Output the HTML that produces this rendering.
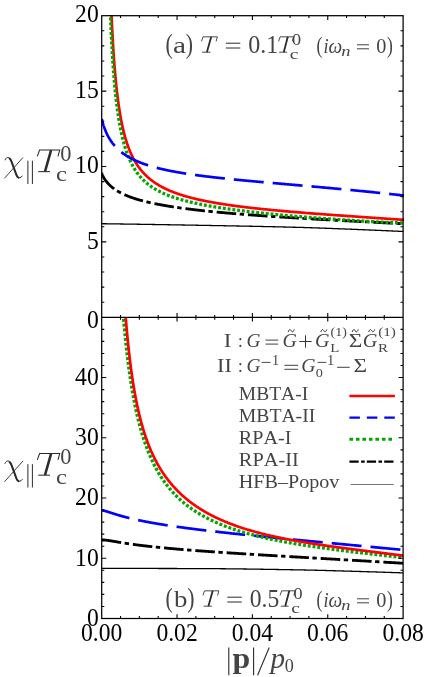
<!DOCTYPE html>
<html><head><meta charset="utf-8"><title>chart</title>
<style>html,body{margin:0;padding:0;background:#fff;overflow:hidden;}svg{display:block;}text{white-space:pre;font-kerning:none;}</style></head>
<body>
<svg width="436" height="677" viewBox="0 0 436 677">
<defs>
<clipPath id="ct"><rect x="101.7" y="15.7" width="301.40000000000003" height="301.6"/></clipPath>
<clipPath id="cb"><rect x="101.7" y="317.3" width="301.40000000000003" height="301.2"/></clipPath>
</defs>
<rect width="436" height="677" fill="#fff"/>
<g id="all" style="will-change:opacity" opacity="0.9999">
<g clip-path="url(#ct)" fill="none">
<path d="M101.00,223.70 L101.76,223.71 L102.52,223.72 L103.27,223.73 L104.03,223.74 L104.79,223.75 L105.55,223.76 L106.31,223.77 L107.06,223.78 L107.82,223.80 L108.58,223.81 L109.34,223.82 L110.09,223.83 L110.85,223.84 L111.61,223.85 L112.37,223.86 L113.13,223.87 L113.88,223.88 L114.64,223.89 L115.40,223.90 L116.16,223.91 L116.92,223.93 L117.67,223.94 L118.43,223.95 L119.19,223.96 L119.95,223.97 L120.71,223.98 L121.46,223.99 L122.22,224.00 L122.98,224.02 L123.74,224.03 L124.49,224.04 L125.25,224.05 L126.01,224.06 L126.77,224.07 L127.53,224.08 L128.28,224.10 L129.04,224.11 L129.80,224.12 L130.56,224.13 L131.32,224.14 L132.07,224.15 L132.83,224.16 L133.59,224.18 L134.35,224.19 L135.11,224.20 L135.86,224.21 L136.62,224.22 L137.38,224.24 L138.14,224.25 L138.89,224.26 L139.65,224.27 L140.41,224.28 L141.17,224.29 L141.93,224.31 L142.68,224.32 L143.44,224.33 L144.20,224.34 L144.96,224.35 L145.72,224.37 L146.47,224.38 L147.23,224.39 L147.99,224.40 L148.75,224.42 L149.51,224.43 L150.26,224.44 L151.02,224.45 L151.78,224.47 L152.54,224.48 L153.29,224.49 L154.05,224.50 L154.81,224.51 L155.57,224.53 L156.33,224.54 L157.08,224.55 L157.84,224.56 L158.60,224.58 L159.36,224.59 L160.12,224.60 L160.87,224.62 L161.63,224.63 L162.39,224.64 L163.15,224.65 L163.91,224.67 L164.66,224.68 L165.42,224.69 L166.18,224.70 L166.94,224.72 L167.69,224.73 L168.45,224.74 L169.21,224.76 L169.97,224.77 L170.73,224.78 L171.48,224.79 L172.24,224.81 L173.00,224.82 L173.76,224.83 L174.52,224.85 L175.27,224.86 L176.03,224.87 L176.79,224.89 L177.55,224.90 L178.31,224.91 L179.06,224.93 L179.82,224.94 L180.58,224.95 L181.34,224.97 L182.09,224.98 L182.85,224.99 L183.61,225.01 L184.37,225.02 L185.13,225.03 L185.88,225.05 L186.64,225.06 L187.40,225.07 L188.16,225.09 L188.92,225.10 L189.67,225.11 L190.43,225.13 L191.19,225.14 L191.95,225.15 L192.71,225.17 L193.46,225.18 L194.22,225.20 L194.98,225.21 L195.74,225.22 L196.49,225.24 L197.25,225.25 L198.01,225.26 L198.77,225.28 L199.53,225.29 L200.28,225.31 L201.04,225.32 L201.80,225.33 L202.56,225.35 L203.32,225.36 L204.07,225.37 L204.83,225.39 L205.59,225.40 L206.35,225.42 L207.11,225.43 L207.86,225.44 L208.62,225.46 L209.38,225.47 L210.14,225.48 L210.89,225.50 L211.65,225.51 L212.41,225.53 L213.17,225.54 L213.93,225.55 L214.68,225.57 L215.44,225.58 L216.20,225.60 L216.96,225.61 L217.72,225.62 L218.47,225.64 L219.23,225.65 L219.99,225.66 L220.75,225.68 L221.51,225.69 L222.26,225.71 L223.02,225.72 L223.78,225.73 L224.54,225.75 L225.29,225.76 L226.05,225.78 L226.81,225.79 L227.57,225.80 L228.33,225.82 L229.08,225.83 L229.84,225.85 L230.60,225.86 L231.36,225.88 L232.12,225.89 L232.87,225.90 L233.63,225.92 L234.39,225.93 L235.15,225.95 L235.91,225.96 L236.66,225.98 L237.42,225.99 L238.18,226.00 L238.94,226.02 L239.69,226.03 L240.45,226.05 L241.21,226.06 L241.97,226.08 L242.73,226.09 L243.48,226.11 L244.24,226.12 L245.00,226.14 L245.76,226.15 L246.52,226.17 L247.27,226.18 L248.03,226.20 L248.79,226.21 L249.55,226.23 L250.31,226.24 L251.06,226.26 L251.82,226.27 L252.58,226.29 L253.34,226.30 L254.09,226.32 L254.85,226.34 L255.61,226.35 L256.37,226.37 L257.13,226.38 L257.88,226.40 L258.64,226.41 L259.40,226.43 L260.16,226.45 L260.92,226.46 L261.67,226.48 L262.43,226.49 L263.19,226.51 L263.95,226.53 L264.71,226.54 L265.46,226.56 L266.22,226.58 L266.98,226.59 L267.74,226.61 L268.49,226.63 L269.25,226.64 L270.01,226.66 L270.77,226.68 L271.53,226.69 L272.28,226.71 L273.04,226.73 L273.80,226.75 L274.56,226.76 L275.32,226.78 L276.07,226.80 L276.83,226.82 L277.59,226.83 L278.35,226.85 L279.11,226.87 L279.86,226.89 L280.62,226.91 L281.38,226.92 L282.14,226.94 L282.89,226.96 L283.65,226.98 L284.41,227.00 L285.17,227.02 L285.93,227.03 L286.68,227.05 L287.44,227.07 L288.20,227.09 L288.96,227.11 L289.72,227.13 L290.47,227.15 L291.23,227.17 L291.99,227.19 L292.75,227.21 L293.51,227.23 L294.26,227.25 L295.02,227.27 L295.78,227.29 L296.54,227.31 L297.29,227.33 L298.05,227.35 L298.81,227.37 L299.57,227.39 L300.33,227.41 L301.08,227.43 L301.84,227.45 L302.60,227.47 L303.36,227.49 L304.12,227.52 L304.87,227.54 L305.63,227.56 L306.39,227.59 L307.15,227.61 L307.91,227.63 L308.66,227.66 L309.42,227.68 L310.18,227.71 L310.94,227.73 L311.69,227.75 L312.45,227.78 L313.21,227.81 L313.97,227.83 L314.73,227.86 L315.48,227.88 L316.24,227.91 L317.00,227.94 L317.76,227.96 L318.52,227.99 L319.27,228.02 L320.03,228.04 L320.79,228.07 L321.55,228.10 L322.31,228.13 L323.06,228.15 L323.82,228.18 L324.58,228.21 L325.34,228.24 L326.09,228.27 L326.85,228.30 L327.61,228.32 L328.37,228.35 L329.13,228.38 L329.88,228.41 L330.64,228.44 L331.40,228.47 L332.16,228.50 L332.92,228.53 L333.67,228.56 L334.43,228.59 L335.19,228.62 L335.95,228.65 L336.71,228.68 L337.46,228.71 L338.22,228.74 L338.98,228.77 L339.74,228.80 L340.49,228.83 L341.25,228.86 L342.01,228.89 L342.77,228.92 L343.53,228.95 L344.28,228.97 L345.04,229.00 L345.80,229.03 L346.56,229.06 L347.32,229.09 L348.07,229.12 L348.83,229.15 L349.59,229.18 L350.35,229.21 L351.11,229.24 L351.86,229.27 L352.62,229.30 L353.38,229.33 L354.14,229.36 L354.89,229.39 L355.65,229.42 L356.41,229.45 L357.17,229.48 L357.93,229.52 L358.68,229.55 L359.44,229.58 L360.20,229.61 L360.96,229.64 L361.72,229.67 L362.47,229.70 L363.23,229.73 L363.99,229.76 L364.75,229.79 L365.51,229.83 L366.26,229.86 L367.02,229.89 L367.78,229.92 L368.54,229.95 L369.29,229.98 L370.05,230.02 L370.81,230.05 L371.57,230.08 L372.33,230.11 L373.08,230.14 L373.84,230.18 L374.60,230.21 L375.36,230.24 L376.12,230.27 L376.87,230.31 L377.63,230.34 L378.39,230.37 L379.15,230.41 L379.91,230.44 L380.66,230.47 L381.42,230.50 L382.18,230.54 L382.94,230.57 L383.69,230.60 L384.45,230.64 L385.21,230.67 L385.97,230.71 L386.73,230.74 L387.48,230.77 L388.24,230.81 L389.00,230.84 L389.76,230.87 L390.52,230.91 L391.27,230.94 L392.03,230.98 L392.79,231.01 L393.55,231.05 L394.31,231.08 L395.06,231.11 L395.82,231.15 L396.58,231.18 L397.34,231.22 L398.09,231.25 L398.85,231.29 L399.61,231.32 L400.37,231.36 L401.13,231.39 L401.88,231.43 L402.64,231.46 L403.40,231.50" stroke="#000" stroke-width="1.3"/>
<path d="M101.80,173.97 L101.80,173.97 L101.80,173.97 L101.80,173.98 L101.81,173.98 L101.81,173.99 L101.82,174.01 L101.83,174.02 L101.83,174.04 L101.84,174.06 L101.86,174.09 L101.87,174.11 L101.88,174.14 L101.90,174.18 L101.92,174.22 L101.94,174.26 L101.96,174.30 L101.98,174.35 L102.00,174.40 L102.03,174.45 L102.06,174.50 L102.08,174.56 L102.11,174.63 L102.15,174.69 L102.18,174.76 L102.22,174.84 L102.25,174.91 L102.29,174.99 L102.33,175.07 L102.38,175.16 L102.42,175.25 L102.47,175.34 L102.52,175.43 L102.57,175.53 L102.62,175.63 L102.67,175.73 L102.73,175.84 L102.79,175.95 L102.85,176.06 L102.91,176.17 L102.97,176.29 L103.04,176.41 L103.11,176.53 L103.17,176.65 L103.25,176.78 L103.32,176.91 L103.39,177.04 L103.47,177.17 L103.55,177.31 L103.63,177.45 L103.72,177.59 L103.80,177.73 L103.89,177.87 L103.98,178.02 L104.07,178.17 L104.16,178.32 L104.26,178.47 L104.36,178.62 L104.45,178.77 L104.56,178.93 L104.66,179.09 L104.77,179.24 L104.87,179.40 L104.98,179.56 L105.10,179.73 L105.21,179.89 L105.33,180.05 L105.45,180.22 L105.57,180.39 L105.69,180.55 L105.82,180.72 L105.94,180.89 L106.07,181.06 L106.20,181.23 L106.34,181.40 L106.47,181.57 L106.61,181.75 L106.75,181.92 L106.89,182.09 L107.04,182.27 L107.19,182.44 L107.34,182.61 L107.49,182.79 L107.64,182.96 L107.80,183.14 L107.95,183.32 L108.11,183.49 L108.28,183.67 L108.44,183.84 L108.61,184.02 L108.78,184.19 L108.95,184.37 L109.12,184.55 L109.30,184.72 L109.48,184.90 L109.66,185.07 L109.84,185.25 L110.03,185.43 L110.22,185.60 L110.41,185.78 L110.60,185.95 L110.79,186.13 L110.99,186.30 L111.19,186.47 L111.39,186.65 L111.60,186.82 L111.80,186.99 L112.01,187.17 L112.22,187.34 L112.44,187.51 L112.65,187.68 L112.87,187.85 L113.09,188.02 L113.31,188.19 L113.54,188.36 L113.77,188.53 L114.00,188.70 L114.23,188.87 L114.47,189.04 L114.70,189.21 L114.94,189.37 L115.18,189.54 L115.43,189.70 L115.68,189.87 L115.93,190.03 L116.18,190.20 L116.43,190.36 L116.69,190.52 L116.95,190.68 L117.21,190.85 L117.47,191.01 L117.74,191.17 L118.01,191.33 L118.28,191.49 L118.55,191.65 L118.83,191.80 L119.11,191.96 L119.39,192.12 L119.67,192.27 L119.96,192.43 L120.25,192.58 L120.54,192.74 L120.83,192.89 L121.13,193.04 L121.43,193.20 L121.73,193.35 L122.03,193.50 L122.34,193.65 L122.65,193.80 L122.96,193.95 L123.27,194.10 L123.59,194.24 L123.91,194.39 L124.23,194.54 L124.55,194.68 L124.88,194.83 L125.21,194.97 L125.54,195.12 L125.87,195.26 L126.21,195.40 L126.55,195.54 L126.89,195.69 L127.23,195.83 L127.58,195.97 L127.93,196.11 L128.28,196.24 L128.64,196.38 L128.99,196.52 L129.35,196.66 L129.71,196.79 L130.08,196.93 L130.45,197.06 L130.82,197.20 L131.19,197.33 L131.56,197.47 L131.94,197.60 L132.32,197.73 L132.70,197.86 L133.09,197.99 L133.48,198.12 L133.87,198.25 L134.26,198.38 L134.66,198.51 L135.06,198.64 L135.46,198.77 L135.86,198.89 L136.27,199.02 L136.68,199.15 L137.09,199.27 L137.50,199.40 L137.92,199.52 L138.34,199.64 L138.76,199.77 L139.19,199.89 L139.61,200.01 L140.04,200.13 L140.48,200.25 L140.91,200.37 L141.35,200.49 L141.79,200.61 L142.23,200.73 L142.68,200.85 L143.13,200.96 L143.58,201.08 L144.03,201.20 L144.49,201.31 L144.95,201.43 L145.41,201.54 L145.88,201.66 L146.34,201.77 L146.81,201.89 L147.29,202.00 L147.76,202.11 L148.24,202.22 L148.72,202.33 L149.21,202.44 L149.69,202.56 L150.18,202.67 L150.67,202.77 L151.17,202.88 L151.67,202.99 L152.17,203.10 L152.67,203.21 L153.17,203.32 L153.68,203.42 L154.19,203.53 L154.71,203.63 L155.22,203.74 L155.74,203.84 L156.26,203.95 L156.79,204.05 L157.32,204.16 L157.85,204.26 L158.38,204.36 L158.91,204.46 L159.45,204.57 L159.99,204.67 L160.54,204.77 L161.08,204.87 L161.63,204.97 L162.19,205.07 L162.74,205.17 L163.30,205.27 L163.86,205.37 L164.42,205.46 L164.99,205.56 L165.56,205.66 L166.13,205.76 L166.70,205.85 L167.28,205.95 L167.86,206.04 L168.44,206.14 L169.03,206.23 L169.62,206.33 L170.21,206.42 L170.80,206.52 L171.40,206.61 L172.00,206.70 L172.60,206.80 L173.21,206.89 L173.81,206.98 L174.42,207.07 L175.04,207.16 L175.65,207.26 L176.27,207.35 L176.90,207.44 L177.52,207.53 L178.15,207.62 L178.78,207.71 L179.41,207.79 L180.05,207.88 L180.69,207.97 L181.33,208.06 L181.97,208.15 L182.62,208.23 L183.27,208.32 L183.92,208.41 L184.58,208.49 L185.24,208.58 L185.90,208.67 L186.57,208.75 L187.23,208.84 L187.90,208.92 L188.58,209.01 L189.25,209.09 L189.93,209.17 L190.61,209.26 L191.30,209.34 L191.99,209.42 L192.68,209.51 L193.37,209.59 L194.07,209.67 L194.76,209.75 L195.47,209.84 L196.17,209.92 L196.88,210.00 L197.59,210.08 L198.30,210.16 L199.02,210.24 L199.74,210.32 L200.46,210.40 L201.18,210.48 L201.91,210.56 L202.64,210.64 L203.38,210.72 L204.11,210.80 L204.85,210.87 L205.60,210.95 L206.34,211.03 L207.09,211.11 L207.84,211.18 L208.59,211.26 L209.35,211.34 L210.11,211.42 L210.87,211.49 L211.64,211.57 L212.41,211.64 L213.18,211.72 L213.95,211.80 L214.73,211.87 L215.51,211.95 L216.29,212.02 L217.08,212.10 L217.87,212.17 L218.66,212.24 L219.46,212.32 L220.25,212.39 L221.06,212.47 L221.86,212.54 L222.67,212.61 L223.48,212.68 L224.29,212.76 L225.10,212.83 L225.92,212.90 L226.74,212.98 L227.57,213.05 L228.40,213.12 L229.23,213.19 L230.06,213.26 L230.90,213.33 L231.74,213.41 L232.58,213.48 L233.42,213.55 L234.27,213.62 L235.12,213.69 L235.98,213.76 L236.83,213.83 L237.69,213.90 L238.56,213.97 L239.42,214.04 L240.29,214.11 L241.16,214.18 L242.04,214.25 L242.92,214.32 L243.80,214.38 L244.68,214.45 L245.57,214.52 L246.46,214.59 L247.35,214.66 L248.25,214.73 L249.15,214.80 L250.05,214.86 L250.95,214.93 L251.86,215.00 L252.77,215.07 L253.69,215.13 L254.60,215.20 L255.52,215.27 L256.45,215.34 L257.37,215.40 L258.30,215.47 L259.23,215.54 L260.17,215.60 L261.11,215.67 L262.05,215.74 L262.99,215.80 L263.94,215.87 L264.89,215.93 L265.84,216.00 L266.80,216.07 L267.76,216.13 L268.72,216.20 L269.69,216.26 L270.65,216.33 L271.63,216.39 L272.60,216.46 L273.58,216.52 L274.56,216.59 L275.54,216.65 L276.53,216.72 L277.52,216.78 L278.51,216.85 L279.51,216.91 L280.51,216.98 L281.51,217.04 L282.51,217.11 L283.52,217.17 L284.53,217.24 L285.55,217.30 L286.56,217.37 L287.58,217.43 L288.61,217.49 L289.63,217.56 L290.66,217.62 L291.69,217.69 L292.73,217.75 L293.77,217.81 L294.81,217.88 L295.86,217.94 L296.90,218.00 L297.95,218.07 L299.01,218.13 L300.07,218.20 L301.13,218.26 L302.19,218.32 L303.26,218.39 L304.32,218.45 L305.40,218.51 L306.47,218.58 L307.55,218.64 L308.63,218.70 L309.72,218.77 L310.81,218.83 L311.90,218.89 L312.99,218.96 L314.09,219.02 L315.19,219.08 L316.29,219.15 L317.40,219.21 L318.51,219.27 L319.62,219.34 L320.74,219.40 L321.86,219.46 L322.98,219.53 L324.11,219.59 L325.23,219.65 L326.37,219.71 L327.50,219.78 L328.64,219.84 L329.78,219.90 L330.92,219.97 L332.07,220.03 L333.22,220.09 L334.37,220.16 L335.53,220.22 L336.69,220.28 L337.85,220.35 L339.02,220.41 L340.19,220.47 L341.36,220.54 L342.54,220.60 L343.71,220.66 L344.90,220.73 L346.08,220.79 L347.27,220.86 L348.46,220.92 L349.65,220.98 L350.85,221.05 L352.05,221.11 L353.26,221.17 L354.46,221.24 L355.67,221.30 L356.89,221.37 L358.10,221.43 L359.32,221.49 L360.54,221.56 L361.77,221.62 L363.00,221.69 L364.23,221.75 L365.47,221.82 L366.70,221.88 L367.95,221.94 L369.19,222.01 L370.44,222.07 L371.69,222.14 L372.94,222.20 L374.20,222.27 L375.46,222.33 L376.73,222.40 L377.99,222.46 L379.26,222.53 L380.54,222.59 L381.81,222.66 L383.09,222.72 L384.37,222.79 L385.66,222.86 L386.95,222.92 L388.24,222.99 L389.54,223.05 L390.84,223.12 L392.14,223.19 L393.44,223.25 L394.75,223.32 L396.06,223.38 L397.38,223.45 L398.70,223.52 L400.02,223.58 L401.34,223.65 L402.67,223.72 L404.00,223.79" stroke="#000" stroke-width="2.85" stroke-dasharray="19.6 3.5 4.4 3.9"/>
<path d="M110.60,-7.63 L110.60,-7.62 L110.60,-7.59 L110.60,-7.53 L110.61,-7.43 L110.61,-7.31 L110.62,-7.15 L110.62,-6.95 L110.63,-6.72 L110.64,-6.46 L110.65,-6.15 L110.67,-5.81 L110.68,-5.43 L110.70,-5.01 L110.71,-4.55 L110.73,-4.05 L110.75,-3.51 L110.77,-2.93 L110.80,-2.32 L110.82,-1.67 L110.85,-0.97 L110.88,-0.24 L110.91,0.53 L110.94,1.33 L110.97,2.17 L111.00,3.05 L111.04,3.97 L111.08,4.92 L111.12,5.90 L111.16,6.92 L111.20,7.97 L111.25,9.05 L111.30,10.17 L111.35,11.31 L111.40,12.49 L111.45,13.69 L111.50,14.92 L111.56,16.18 L111.62,17.46 L111.68,18.77 L111.74,20.10 L111.80,21.45 L111.87,22.82 L111.93,24.22 L112.00,25.63 L112.07,27.06 L112.15,28.51 L112.22,29.97 L112.30,31.45 L112.38,32.95 L112.46,34.45 L112.54,35.97 L112.63,37.50 L112.71,39.03 L112.80,40.58 L112.89,42.13 L112.99,43.70 L113.08,45.26 L113.18,46.83 L113.28,48.41 L113.38,49.99 L113.48,51.57 L113.58,53.15 L113.69,54.73 L113.80,56.31 L113.91,57.89 L114.02,59.47 L114.14,61.05 L114.26,62.62 L114.38,64.19 L114.50,65.75 L114.62,67.31 L114.75,68.86 L114.88,70.41 L115.01,71.95 L115.14,73.48 L115.27,75.01 L115.41,76.52 L115.55,78.03 L115.69,79.53 L115.83,81.01 L115.97,82.49 L116.12,83.96 L116.27,85.41 L116.42,86.86 L116.58,88.29 L116.73,89.72 L116.89,91.13 L117.05,92.53 L117.21,93.91 L117.38,95.29 L117.54,96.65 L117.71,98.00 L117.88,99.33 L118.06,100.66 L118.23,101.97 L118.41,103.26 L118.59,104.55 L118.77,105.82 L118.96,107.07 L119.14,108.31 L119.33,109.54 L119.52,110.76 L119.72,111.96 L119.91,113.15 L120.11,114.33 L120.31,115.49 L120.51,116.64 L120.72,117.77 L120.93,118.89 L121.14,120.00 L121.35,121.10 L121.56,122.18 L121.78,123.25 L122.00,124.30 L122.22,125.35 L122.44,126.38 L122.67,127.39 L122.90,128.40 L123.13,129.39 L123.36,130.37 L123.59,131.34 L123.83,132.29 L124.07,133.23 L124.31,134.16 L124.56,135.08 L124.81,135.99 L125.05,136.89 L125.31,137.77 L125.56,138.64 L125.82,139.50 L126.08,140.35 L126.34,141.19 L126.60,142.02 L126.87,142.84 L127.13,143.65 L127.40,144.44 L127.68,145.23 L127.95,146.00 L128.23,146.77 L128.51,147.52 L128.79,148.27 L129.08,149.01 L129.37,149.73 L129.66,150.45 L129.95,151.16 L130.24,151.86 L130.54,152.54 L130.84,153.23 L131.14,153.90 L131.45,154.56 L131.75,155.21 L132.06,155.86 L132.38,156.50 L132.69,157.13 L133.01,157.75 L133.33,158.36 L133.65,158.96 L133.97,159.56 L134.30,160.15 L134.63,160.73 L134.96,161.31 L135.29,161.88 L135.63,162.44 L135.97,162.99 L136.31,163.53 L136.65,164.07 L137.00,164.61 L137.35,165.13 L137.70,165.65 L138.06,166.16 L138.41,166.67 L138.77,167.17 L139.13,167.66 L139.50,168.15 L139.86,168.63 L140.23,169.11 L140.60,169.58 L140.98,170.04 L141.35,170.50 L141.73,170.95 L142.12,171.40 L142.50,171.84 L142.89,172.28 L143.28,172.71 L143.67,173.13 L144.06,173.56 L144.46,173.97 L144.86,174.38 L145.26,174.79 L145.67,175.19 L146.07,175.59 L146.48,175.98 L146.90,176.36 L147.31,176.75 L147.73,177.13 L148.15,177.50 L148.57,177.87 L149.00,178.23 L149.43,178.60 L149.86,178.95 L150.29,179.31 L150.72,179.65 L151.16,180.00 L151.60,180.34 L152.05,180.68 L152.49,181.01 L152.94,181.34 L153.39,181.67 L153.85,181.99 L154.30,182.31 L154.76,182.62 L155.22,182.94 L155.69,183.25 L156.16,183.55 L156.63,183.85 L157.10,184.15 L157.57,184.45 L158.05,184.74 L158.53,185.03 L159.01,185.31 L159.50,185.60 L159.99,185.88 L160.48,186.16 L160.97,186.43 L161.47,186.70 L161.97,186.97 L162.47,187.24 L162.97,187.50 L163.48,187.76 L163.99,188.02 L164.50,188.27 L165.01,188.52 L165.53,188.77 L166.05,189.02 L166.57,189.27 L167.10,189.51 L167.63,189.75 L168.16,189.99 L168.69,190.22 L169.23,190.46 L169.77,190.69 L170.31,190.92 L170.85,191.14 L171.40,191.37 L171.95,191.59 L172.50,191.81 L173.06,192.03 L173.61,192.24 L174.17,192.46 L174.74,192.67 L175.30,192.88 L175.87,193.09 L176.44,193.29 L177.02,193.50 L177.59,193.70 L178.17,193.90 L178.75,194.10 L179.34,194.29 L179.93,194.49 L180.52,194.68 L181.11,194.87 L181.71,195.06 L182.30,195.25 L182.90,195.44 L183.51,195.62 L184.12,195.81 L184.72,195.99 L185.34,196.17 L185.95,196.35 L186.57,196.52 L187.19,196.70 L187.81,196.87 L188.44,197.05 L189.07,197.22 L189.70,197.39 L190.33,197.55 L190.97,197.72 L191.61,197.89 L192.25,198.05 L192.90,198.21 L193.55,198.37 L194.20,198.53 L194.85,198.69 L195.51,198.85 L196.17,199.01 L196.83,199.16 L197.49,199.32 L198.16,199.47 L198.83,199.62 L199.50,199.77 L200.18,199.92 L200.86,200.07 L201.54,200.21 L202.22,200.36 L202.91,200.51 L203.60,200.65 L204.29,200.79 L204.99,200.93 L205.69,201.07 L206.39,201.21 L207.09,201.35 L207.80,201.49 L208.51,201.62 L209.22,201.76 L209.93,201.89 L210.65,202.03 L211.37,202.16 L212.10,202.29 L212.82,202.42 L213.55,202.55 L214.28,202.68 L215.02,202.81 L215.76,202.94 L216.50,203.06 L217.24,203.19 L217.99,203.31 L218.74,203.44 L219.49,203.56 L220.24,203.68 L221.00,203.80 L221.76,203.92 L222.52,204.04 L223.29,204.16 L224.06,204.28 L224.83,204.40 L225.61,204.51 L226.38,204.63 L227.16,204.75 L227.95,204.86 L228.73,204.97 L229.52,205.09 L230.31,205.20 L231.11,205.31 L231.91,205.42 L232.71,205.54 L233.51,205.65 L234.32,205.75 L235.12,205.86 L235.94,205.97 L236.75,206.08 L237.57,206.19 L238.39,206.29 L239.21,206.40 L240.04,206.50 L240.87,206.61 L241.70,206.71 L242.54,206.82 L243.37,206.92 L244.21,207.02 L245.06,207.12 L245.91,207.23 L246.75,207.33 L247.61,207.43 L248.46,207.53 L249.32,207.63 L250.18,207.73 L251.05,207.83 L251.91,207.92 L252.78,208.02 L253.66,208.12 L254.53,208.22 L255.41,208.31 L256.29,208.41 L257.18,208.50 L258.06,208.60 L258.95,208.69 L259.85,208.79 L260.74,208.88 L261.64,208.98 L262.54,209.07 L263.45,209.16 L264.36,209.25 L265.27,209.35 L266.18,209.44 L267.10,209.53 L268.02,209.62 L268.94,209.71 L269.87,209.80 L270.79,209.89 L271.72,209.98 L272.66,210.07 L273.60,210.16 L274.54,210.25 L275.48,210.34 L276.43,210.43 L277.38,210.51 L278.33,210.60 L279.28,210.69 L280.24,210.78 L281.20,210.86 L282.16,210.95 L283.13,211.04 L284.10,211.12 L285.07,211.21 L286.05,211.29 L287.03,211.38 L288.01,211.46 L288.99,211.55 L289.98,211.63 L290.97,211.72 L291.97,211.80 L292.96,211.89 L293.96,211.97 L294.96,212.05 L295.97,212.14 L296.98,212.22 L297.99,212.31 L299.00,212.39 L300.02,212.47 L301.04,212.55 L302.07,212.64 L303.09,212.72 L304.12,212.80 L305.15,212.88 L306.19,212.97 L307.23,213.05 L308.27,213.13 L309.31,213.21 L310.36,213.29 L311.41,213.37 L312.46,213.46 L313.52,213.54 L314.58,213.62 L315.64,213.70 L316.71,213.78 L317.78,213.86 L318.85,213.94 L319.92,214.02 L321.00,214.10 L322.08,214.18 L323.16,214.27 L324.25,214.35 L325.34,214.43 L326.43,214.51 L327.53,214.59 L328.63,214.67 L329.73,214.75 L330.83,214.83 L331.94,214.91 L333.05,214.99 L334.16,215.07 L335.28,215.15 L336.40,215.23 L337.52,215.31 L338.65,215.39 L339.78,215.47 L340.91,215.55 L342.05,215.63 L343.18,215.71 L344.33,215.79 L345.47,215.87 L346.62,215.95 L347.77,216.03 L348.92,216.11 L350.08,216.19 L351.24,216.27 L352.40,216.35 L353.56,216.43 L354.73,216.51 L355.90,216.60 L357.08,216.68 L358.26,216.76 L359.44,216.84 L360.62,216.92 L361.81,217.00 L363.00,217.08 L364.19,217.16 L365.39,217.24 L366.59,217.32 L367.79,217.41 L369.00,217.49 L370.20,217.57 L371.42,217.65 L372.63,217.73 L373.85,217.82 L375.07,217.90 L376.29,217.98 L377.52,218.06 L378.75,218.14 L379.98,218.23 L381.22,218.31 L382.46,218.39 L383.70,218.48 L384.95,218.56 L386.19,218.64 L387.45,218.73 L388.70,218.81 L389.96,218.89 L391.22,218.98 L392.48,219.06 L393.75,219.15 L395.02,219.23 L396.29,219.32 L397.57,219.40 L398.85,219.49 L400.13,219.57 L401.42,219.66 L402.71,219.74 L404.00,219.83" stroke="#ff0000" stroke-width="2.7"/>
<path d="M109.60,-6.44 L109.60,-6.43 L109.60,-6.40 L109.60,-6.33 L109.61,-6.23 L109.61,-6.10 L109.62,-5.93 L109.62,-5.72 L109.63,-5.48 L109.64,-5.19 L109.65,-4.87 L109.67,-4.50 L109.68,-4.10 L109.70,-3.65 L109.71,-3.16 L109.73,-2.64 L109.75,-2.07 L109.77,-1.45 L109.80,-0.80 L109.82,-0.11 L109.85,0.63 L109.88,1.40 L109.91,2.22 L109.94,3.07 L109.97,3.96 L110.01,4.89 L110.04,5.86 L110.08,6.87 L110.12,7.91 L110.16,8.99 L110.21,10.10 L110.25,11.24 L110.30,12.42 L110.35,13.63 L110.40,14.87 L110.45,16.14 L110.51,17.44 L110.56,18.77 L110.62,20.12 L110.68,21.50 L110.74,22.91 L110.81,24.33 L110.87,25.78 L110.94,27.25 L111.01,28.74 L111.08,30.25 L111.15,31.77 L111.23,33.31 L111.31,34.87 L111.38,36.44 L111.47,38.02 L111.55,39.62 L111.63,41.22 L111.72,42.84 L111.81,44.46 L111.90,46.09 L111.99,47.73 L112.09,49.37 L112.19,51.02 L112.29,52.67 L112.39,54.33 L112.49,55.98 L112.59,57.63 L112.70,59.29 L112.81,60.94 L112.92,62.60 L113.04,64.25 L113.15,65.89 L113.27,67.53 L113.39,69.17 L113.51,70.80 L113.64,72.43 L113.76,74.05 L113.89,75.66 L114.02,77.26 L114.15,78.86 L114.29,80.44 L114.42,82.02 L114.56,83.59 L114.70,85.14 L114.85,86.69 L114.99,88.22 L115.14,89.74 L115.29,91.26 L115.44,92.75 L115.60,94.24 L115.75,95.71 L115.91,97.17 L116.07,98.62 L116.23,100.06 L116.40,101.48 L116.57,102.88 L116.74,104.28 L116.91,105.65 L117.08,107.02 L117.26,108.37 L117.44,109.70 L117.62,111.03 L117.80,112.33 L117.99,113.62 L118.17,114.90 L118.36,116.16 L118.55,117.41 L118.75,118.65 L118.95,119.86 L119.14,121.07 L119.35,122.26 L119.55,123.43 L119.75,124.59 L119.96,125.74 L120.17,126.87 L120.39,127.99 L120.60,129.09 L120.82,130.18 L121.04,131.26 L121.26,132.32 L121.48,133.36 L121.71,134.40 L121.94,135.41 L122.17,136.42 L122.40,137.41 L122.64,138.39 L122.88,139.36 L123.12,140.31 L123.36,141.25 L123.61,142.18 L123.85,143.09 L124.10,143.99 L124.36,144.88 L124.61,145.76 L124.87,146.62 L125.13,147.48 L125.39,148.32 L125.65,149.15 L125.92,149.96 L126.19,150.77 L126.46,151.56 L126.74,152.35 L127.01,153.12 L127.29,153.88 L127.57,154.63 L127.86,155.37 L128.14,156.10 L128.43,156.82 L128.72,157.53 L129.01,158.23 L129.31,158.92 L129.61,159.60 L129.91,160.27 L130.21,160.93 L130.52,161.58 L130.83,162.22 L131.14,162.86 L131.45,163.48 L131.76,164.10 L132.08,164.70 L132.40,165.30 L132.73,165.89 L133.05,166.47 L133.38,167.05 L133.71,167.61 L134.04,168.17 L134.38,168.72 L134.71,169.26 L135.05,169.80 L135.40,170.32 L135.74,170.84 L136.09,171.36 L136.44,171.86 L136.79,172.36 L137.15,172.85 L137.51,173.34 L137.87,173.81 L138.23,174.29 L138.60,174.75 L138.96,175.21 L139.33,175.66 L139.71,176.11 L140.08,176.55 L140.46,176.99 L140.84,177.42 L141.22,177.84 L141.61,178.26 L142.00,178.67 L142.39,179.08 L142.78,179.48 L143.18,179.87 L143.58,180.26 L143.98,180.65 L144.38,181.03 L144.79,181.41 L145.20,181.78 L145.61,182.14 L146.02,182.51 L146.44,182.86 L146.86,183.22 L147.28,183.56 L147.70,183.91 L148.13,184.25 L148.56,184.58 L148.99,184.91 L149.42,185.24 L149.86,185.56 L150.30,185.88 L150.74,186.20 L151.19,186.51 L151.64,186.81 L152.09,187.12 L152.54,187.42 L152.99,187.71 L153.45,188.01 L153.91,188.30 L154.38,188.58 L154.84,188.87 L155.31,189.14 L155.78,189.42 L156.26,189.69 L156.73,189.96 L157.21,190.23 L157.69,190.49 L158.18,190.76 L158.67,191.01 L159.16,191.27 L159.65,191.52 L160.14,191.77 L160.64,192.02 L161.14,192.26 L161.64,192.50 L162.15,192.74 L162.66,192.98 L163.17,193.21 L163.68,193.44 L164.20,193.67 L164.72,193.90 L165.24,194.12 L165.77,194.34 L166.29,194.56 L166.82,194.78 L167.35,195.00 L167.89,195.21 L168.43,195.42 L168.97,195.63 L169.51,195.84 L170.06,196.04 L170.61,196.24 L171.16,196.45 L171.71,196.64 L172.27,196.84 L172.83,197.04 L173.39,197.23 L173.96,197.42 L174.52,197.61 L175.09,197.80 L175.67,197.99 L176.24,198.17 L176.82,198.35 L177.40,198.54 L177.99,198.72 L178.57,198.89 L179.16,199.07 L179.75,199.25 L180.35,199.42 L180.95,199.59 L181.55,199.76 L182.15,199.93 L182.76,200.10 L183.37,200.27 L183.98,200.43 L184.59,200.60 L185.21,200.76 L185.83,200.92 L186.45,201.08 L187.08,201.24 L187.70,201.40 L188.34,201.56 L188.97,201.71 L189.60,201.87 L190.24,202.02 L190.89,202.17 L191.53,202.32 L192.18,202.47 L192.83,202.62 L193.48,202.77 L194.14,202.92 L194.80,203.06 L195.46,203.21 L196.12,203.35 L196.79,203.49 L197.46,203.64 L198.13,203.78 L198.81,203.92 L199.48,204.06 L200.16,204.19 L200.85,204.33 L201.53,204.47 L202.22,204.60 L202.92,204.74 L203.61,204.87 L204.31,205.01 L205.01,205.14 L205.71,205.27 L206.42,205.40 L207.13,205.53 L207.84,205.66 L208.56,205.79 L209.27,205.92 L209.99,206.04 L210.72,206.17 L211.44,206.30 L212.17,206.42 L212.90,206.55 L213.64,206.67 L214.37,206.79 L215.11,206.92 L215.86,207.04 L216.60,207.16 L217.35,207.28 L218.10,207.40 L218.86,207.52 L219.62,207.64 L220.38,207.76 L221.14,207.87 L221.91,207.99 L222.67,208.11 L223.45,208.22 L224.22,208.34 L225.00,208.45 L225.78,208.57 L226.56,208.68 L227.35,208.80 L228.14,208.91 L228.93,209.02 L229.72,209.13 L230.52,209.24 L231.32,209.36 L232.12,209.47 L232.93,209.58 L233.74,209.69 L234.55,209.80 L235.36,209.90 L236.18,210.01 L237.00,210.12 L237.83,210.23 L238.65,210.33 L239.48,210.44 L240.31,210.55 L241.15,210.65 L241.99,210.76 L242.83,210.86 L243.67,210.97 L244.52,211.07 L245.37,211.18 L246.22,211.28 L247.07,211.38 L247.93,211.49 L248.79,211.59 L249.66,211.69 L250.52,211.79 L251.39,211.89 L252.27,211.99 L253.14,212.09 L254.02,212.19 L254.90,212.29 L255.79,212.39 L256.68,212.49 L257.57,212.59 L258.46,212.69 L259.36,212.79 L260.25,212.89 L261.16,212.98 L262.06,213.08 L262.97,213.18 L263.88,213.28 L264.79,213.37 L265.71,213.47 L266.63,213.56 L267.55,213.66 L268.48,213.75 L269.41,213.85 L270.34,213.94 L271.27,214.04 L272.21,214.13 L273.15,214.22 L274.10,214.32 L275.04,214.41 L275.99,214.50 L276.94,214.60 L277.90,214.69 L278.86,214.78 L279.82,214.87 L280.78,214.96 L281.75,215.05 L282.72,215.14 L283.69,215.23 L284.67,215.32 L285.65,215.41 L286.63,215.50 L287.61,215.59 L288.60,215.68 L289.59,215.77 L290.59,215.86 L291.58,215.95 L292.58,216.03 L293.59,216.12 L294.59,216.21 L295.60,216.30 L296.61,216.38 L297.63,216.47 L298.65,216.56 L299.67,216.64 L300.69,216.73 L301.72,216.81 L302.75,216.90 L303.78,216.98 L304.82,217.07 L305.86,217.15 L306.90,217.24 L307.94,217.32 L308.99,217.40 L310.04,217.49 L311.10,217.57 L312.15,217.65 L313.21,217.73 L314.28,217.81 L315.34,217.90 L316.41,217.98 L317.48,218.06 L318.56,218.14 L319.64,218.22 L320.72,218.30 L321.80,218.38 L322.89,218.46 L323.98,218.54 L325.07,218.62 L326.17,218.70 L327.27,218.78 L328.37,218.85 L329.47,218.93 L330.58,219.01 L331.69,219.09 L332.81,219.16 L333.93,219.24 L335.05,219.32 L336.17,219.39 L337.30,219.47 L338.43,219.54 L339.56,219.62 L340.70,219.69 L341.84,219.77 L342.98,219.84 L344.12,219.92 L345.27,219.99 L346.42,220.06 L347.58,220.14 L348.73,220.21 L349.89,220.28 L351.06,220.35 L352.22,220.42 L353.39,220.49 L354.57,220.57 L355.74,220.64 L356.92,220.71 L358.10,220.78 L359.29,220.85 L360.47,220.91 L361.67,220.98 L362.86,221.05 L364.06,221.12 L365.26,221.19 L366.46,221.26 L367.67,221.32 L368.88,221.39 L370.09,221.45 L371.30,221.52 L372.52,221.59 L373.75,221.65 L374.97,221.72 L376.20,221.78 L377.43,221.84 L378.66,221.91 L379.90,221.97 L381.14,222.03 L382.38,222.10 L383.63,222.16 L384.88,222.22 L386.13,222.28 L387.39,222.34 L388.65,222.40 L389.91,222.46 L391.18,222.52 L392.44,222.58 L393.72,222.64 L394.99,222.70 L396.27,222.76 L397.55,222.81 L398.83,222.87 L400.12,222.93 L401.41,222.98 L402.70,223.04 L404.00,223.09" stroke="#00a600" stroke-width="3.3" stroke-dasharray="2.9 1.9"/>
<path d="M101.80,119.26 L101.80,119.26 L101.80,119.26 L101.80,119.27 L101.81,119.29 L101.81,119.31 L101.82,119.33 L101.83,119.36 L101.83,119.39 L101.84,119.43 L101.86,119.48 L101.87,119.53 L101.88,119.58 L101.90,119.65 L101.92,119.71 L101.94,119.79 L101.96,119.87 L101.98,119.95 L102.00,120.05 L102.03,120.14 L102.06,120.25 L102.08,120.36 L102.11,120.47 L102.15,120.59 L102.18,120.72 L102.22,120.86 L102.25,120.99 L102.29,121.14 L102.33,121.29 L102.38,121.45 L102.42,121.61 L102.47,121.77 L102.52,121.95 L102.57,122.12 L102.62,122.31 L102.67,122.49 L102.73,122.69 L102.79,122.89 L102.85,123.09 L102.91,123.30 L102.97,123.51 L103.04,123.72 L103.11,123.95 L103.17,124.17 L103.25,124.40 L103.32,124.63 L103.39,124.87 L103.47,125.11 L103.55,125.36 L103.63,125.61 L103.72,125.86 L103.80,126.11 L103.89,126.37 L103.98,126.63 L104.07,126.90 L104.16,127.17 L104.26,127.44 L104.36,127.71 L104.45,127.98 L104.56,128.26 L104.66,128.54 L104.77,128.82 L104.87,129.11 L104.98,129.39 L105.10,129.68 L105.21,129.97 L105.33,130.26 L105.45,130.55 L105.57,130.84 L105.69,131.14 L105.82,131.43 L105.94,131.73 L106.07,132.03 L106.20,132.33 L106.34,132.63 L106.47,132.93 L106.61,133.23 L106.75,133.53 L106.89,133.83 L107.04,134.13 L107.19,134.43 L107.34,134.74 L107.49,135.04 L107.64,135.34 L107.80,135.64 L107.95,135.95 L108.11,136.25 L108.28,136.55 L108.44,136.85 L108.61,137.15 L108.78,137.45 L108.95,137.76 L109.12,138.05 L109.30,138.35 L109.48,138.65 L109.66,138.95 L109.84,139.25 L110.03,139.55 L110.22,139.84 L110.41,140.14 L110.60,140.43 L110.79,140.72 L110.99,141.02 L111.19,141.31 L111.39,141.60 L111.60,141.89 L111.80,142.18 L112.01,142.46 L112.22,142.75 L112.44,143.03 L112.65,143.32 L112.87,143.60 L113.09,143.88 L113.31,144.16 L113.54,144.44 L113.77,144.72 L114.00,144.99 L114.23,145.27 L114.47,145.54 L114.70,145.81 L114.94,146.09 L115.18,146.35 L115.43,146.62 L115.68,146.89 L115.93,147.16 L116.18,147.42 L116.43,147.68 L116.69,147.94 L116.95,148.20 L117.21,148.46 L117.47,148.72 L117.74,148.97 L118.01,149.23 L118.28,149.48 L118.55,149.73 L118.83,149.98 L119.11,150.23 L119.39,150.48 L119.67,150.72 L119.96,150.97 L120.25,151.21 L120.54,151.45 L120.83,151.69 L121.13,151.93 L121.43,152.17 L121.73,152.40 L122.03,152.64 L122.34,152.87 L122.65,153.10 L122.96,153.33 L123.27,153.56 L123.59,153.79 L123.91,154.01 L124.23,154.24 L124.55,154.46 L124.88,154.68 L125.21,154.90 L125.54,155.12 L125.87,155.33 L126.21,155.55 L126.55,155.77 L126.89,155.98 L127.23,156.19 L127.58,156.40 L127.93,156.61 L128.28,156.82 L128.64,157.02 L128.99,157.23 L129.35,157.43 L129.71,157.63 L130.08,157.84 L130.45,158.04 L130.82,158.23 L131.19,158.43 L131.56,158.63 L131.94,158.82 L132.32,159.01 L132.70,159.21 L133.09,159.40 L133.48,159.59 L133.87,159.78 L134.26,159.96 L134.66,160.15 L135.06,160.33 L135.46,160.52 L135.86,160.70 L136.27,160.88 L136.68,161.06 L137.09,161.24 L137.50,161.42 L137.92,161.59 L138.34,161.77 L138.76,161.94 L139.19,162.12 L139.61,162.29 L140.04,162.46 L140.48,162.63 L140.91,162.80 L141.35,162.96 L141.79,163.13 L142.23,163.30 L142.68,163.46 L143.13,163.62 L143.58,163.79 L144.03,163.95 L144.49,164.11 L144.95,164.27 L145.41,164.42 L145.88,164.58 L146.34,164.74 L146.81,164.89 L147.29,165.05 L147.76,165.20 L148.24,165.35 L148.72,165.50 L149.21,165.65 L149.69,165.80 L150.18,165.95 L150.67,166.10 L151.17,166.24 L151.67,166.39 L152.17,166.53 L152.67,166.68 L153.17,166.82 L153.68,166.96 L154.19,167.10 L154.71,167.24 L155.22,167.38 L155.74,167.52 L156.26,167.66 L156.79,167.80 L157.32,167.93 L157.85,168.07 L158.38,168.20 L158.91,168.33 L159.45,168.47 L159.99,168.60 L160.54,168.73 L161.08,168.86 L161.63,168.99 L162.19,169.12 L162.74,169.24 L163.30,169.37 L163.86,169.50 L164.42,169.62 L164.99,169.75 L165.56,169.87 L166.13,170.00 L166.70,170.12 L167.28,170.24 L167.86,170.36 L168.44,170.48 L169.03,170.60 L169.62,170.72 L170.21,170.84 L170.80,170.96 L171.40,171.07 L172.00,171.19 L172.60,171.31 L173.21,171.42 L173.81,171.54 L174.42,171.65 L175.04,171.76 L175.65,171.88 L176.27,171.99 L176.90,172.10 L177.52,172.21 L178.15,172.32 L178.78,172.43 L179.41,172.54 L180.05,172.65 L180.69,172.76 L181.33,172.86 L181.97,172.97 L182.62,173.08 L183.27,173.18 L183.92,173.29 L184.58,173.39 L185.24,173.50 L185.90,173.60 L186.57,173.70 L187.23,173.81 L187.90,173.91 L188.58,174.01 L189.25,174.11 L189.93,174.21 L190.61,174.31 L191.30,174.41 L191.99,174.51 L192.68,174.61 L193.37,174.71 L194.07,174.81 L194.76,174.91 L195.47,175.00 L196.17,175.10 L196.88,175.20 L197.59,175.29 L198.30,175.39 L199.02,175.48 L199.74,175.58 L200.46,175.67 L201.18,175.77 L201.91,175.86 L202.64,175.96 L203.38,176.05 L204.11,176.14 L204.85,176.23 L205.60,176.33 L206.34,176.42 L207.09,176.51 L207.84,176.60 L208.59,176.69 L209.35,176.78 L210.11,176.87 L210.87,176.96 L211.64,177.05 L212.41,177.14 L213.18,177.23 L213.95,177.32 L214.73,177.41 L215.51,177.50 L216.29,177.58 L217.08,177.67 L217.87,177.76 L218.66,177.85 L219.46,177.94 L220.25,178.02 L221.06,178.11 L221.86,178.20 L222.67,178.28 L223.48,178.37 L224.29,178.45 L225.10,178.54 L225.92,178.63 L226.74,178.71 L227.57,178.80 L228.40,178.88 L229.23,178.97 L230.06,179.05 L230.90,179.14 L231.74,179.22 L232.58,179.31 L233.42,179.39 L234.27,179.48 L235.12,179.56 L235.98,179.64 L236.83,179.73 L237.69,179.81 L238.56,179.90 L239.42,179.98 L240.29,180.06 L241.16,180.15 L242.04,180.23 L242.92,180.31 L243.80,180.40 L244.68,180.48 L245.57,180.57 L246.46,180.65 L247.35,180.73 L248.25,180.82 L249.15,180.90 L250.05,180.98 L250.95,181.07 L251.86,181.15 L252.77,181.23 L253.69,181.32 L254.60,181.40 L255.52,181.48 L256.45,181.57 L257.37,181.65 L258.30,181.74 L259.23,181.82 L260.17,181.90 L261.11,181.99 L262.05,182.07 L262.99,182.16 L263.94,182.24 L264.89,182.33 L265.84,182.41 L266.80,182.50 L267.76,182.58 L268.72,182.67 L269.69,182.75 L270.65,182.84 L271.63,182.92 L272.60,183.01 L273.58,183.09 L274.56,183.18 L275.54,183.26 L276.53,183.35 L277.52,183.44 L278.51,183.52 L279.51,183.61 L280.51,183.70 L281.51,183.79 L282.51,183.87 L283.52,183.96 L284.53,184.05 L285.55,184.14 L286.56,184.23 L287.58,184.31 L288.61,184.40 L289.63,184.49 L290.66,184.58 L291.69,184.67 L292.73,184.76 L293.77,184.85 L294.81,184.94 L295.86,185.04 L296.90,185.13 L297.95,185.22 L299.01,185.31 L300.07,185.40 L301.13,185.50 L302.19,185.59 L303.26,185.68 L304.32,185.78 L305.40,185.87 L306.47,185.97 L307.55,186.06 L308.63,186.16 L309.72,186.25 L310.81,186.35 L311.90,186.44 L312.99,186.54 L314.09,186.64 L315.19,186.74 L316.29,186.84 L317.40,186.93 L318.51,187.03 L319.62,187.13 L320.74,187.23 L321.86,187.33 L322.98,187.43 L324.11,187.54 L325.23,187.64 L326.37,187.74 L327.50,187.84 L328.64,187.95 L329.78,188.05 L330.92,188.16 L332.07,188.26 L333.22,188.37 L334.37,188.47 L335.53,188.58 L336.69,188.69 L337.85,188.80 L339.02,188.91 L340.19,189.02 L341.36,189.12 L342.54,189.24 L343.71,189.35 L344.90,189.46 L346.08,189.57 L347.27,189.68 L348.46,189.80 L349.65,189.91 L350.85,190.03 L352.05,190.14 L353.26,190.26 L354.46,190.37 L355.67,190.49 L356.89,190.61 L358.10,190.73 L359.32,190.85 L360.54,190.97 L361.77,191.09 L363.00,191.21 L364.23,191.34 L365.47,191.46 L366.70,191.58 L367.95,191.71 L369.19,191.83 L370.44,191.96 L371.69,192.09 L372.94,192.21 L374.20,192.34 L375.46,192.47 L376.73,192.60 L377.99,192.73 L379.26,192.87 L380.54,193.00 L381.81,193.13 L383.09,193.27 L384.37,193.40 L385.66,193.54 L386.95,193.68 L388.24,193.82 L389.54,193.95 L390.84,194.09 L392.14,194.23 L393.44,194.38 L394.75,194.52 L396.06,194.66 L397.38,194.81 L398.70,194.95 L400.02,195.10 L401.34,195.25 L402.67,195.39 L404.00,195.54" stroke="#0000ff" stroke-width="2.7" stroke-dasharray="30 9" stroke-dashoffset="0"/>
</g>
<g clip-path="url(#cb)" fill="none">
<path d="M101.00,568.40 L101.76,568.40 L102.52,568.40 L103.27,568.40 L104.03,568.40 L104.79,568.40 L105.55,568.40 L106.31,568.40 L107.06,568.40 L107.82,568.40 L108.58,568.40 L109.34,568.40 L110.09,568.40 L110.85,568.40 L111.61,568.40 L112.37,568.40 L113.13,568.40 L113.88,568.40 L114.64,568.40 L115.40,568.41 L116.16,568.41 L116.92,568.41 L117.67,568.41 L118.43,568.41 L119.19,568.41 L119.95,568.41 L120.71,568.41 L121.46,568.41 L122.22,568.41 L122.98,568.41 L123.74,568.41 L124.49,568.41 L125.25,568.41 L126.01,568.42 L126.77,568.42 L127.53,568.42 L128.28,568.42 L129.04,568.42 L129.80,568.42 L130.56,568.42 L131.32,568.42 L132.07,568.42 L132.83,568.42 L133.59,568.43 L134.35,568.43 L135.11,568.43 L135.86,568.43 L136.62,568.43 L137.38,568.43 L138.14,568.43 L138.89,568.43 L139.65,568.44 L140.41,568.44 L141.17,568.44 L141.93,568.44 L142.68,568.44 L143.44,568.44 L144.20,568.44 L144.96,568.45 L145.72,568.45 L146.47,568.45 L147.23,568.45 L147.99,568.45 L148.75,568.45 L149.51,568.45 L150.26,568.46 L151.02,568.46 L151.78,568.46 L152.54,568.46 L153.29,568.46 L154.05,568.46 L154.81,568.47 L155.57,568.47 L156.33,568.47 L157.08,568.47 L157.84,568.47 L158.60,568.48 L159.36,568.48 L160.12,568.48 L160.87,568.48 L161.63,568.48 L162.39,568.48 L163.15,568.49 L163.91,568.49 L164.66,568.49 L165.42,568.49 L166.18,568.49 L166.94,568.50 L167.69,568.50 L168.45,568.50 L169.21,568.50 L169.97,568.51 L170.73,568.51 L171.48,568.51 L172.24,568.51 L173.00,568.51 L173.76,568.52 L174.52,568.52 L175.27,568.52 L176.03,568.52 L176.79,568.52 L177.55,568.53 L178.31,568.53 L179.06,568.53 L179.82,568.53 L180.58,568.54 L181.34,568.54 L182.09,568.54 L182.85,568.54 L183.61,568.55 L184.37,568.55 L185.13,568.55 L185.88,568.55 L186.64,568.56 L187.40,568.56 L188.16,568.56 L188.92,568.56 L189.67,568.56 L190.43,568.57 L191.19,568.57 L191.95,568.57 L192.71,568.58 L193.46,568.58 L194.22,568.58 L194.98,568.58 L195.74,568.59 L196.49,568.59 L197.25,568.59 L198.01,568.59 L198.77,568.60 L199.53,568.60 L200.28,568.60 L201.04,568.60 L201.80,568.61 L202.56,568.61 L203.32,568.61 L204.07,568.62 L204.83,568.62 L205.59,568.62 L206.35,568.63 L207.11,568.63 L207.86,568.64 L208.62,568.64 L209.38,568.64 L210.14,568.65 L210.89,568.65 L211.65,568.66 L212.41,568.66 L213.17,568.67 L213.93,568.67 L214.68,568.68 L215.44,568.69 L216.20,568.69 L216.96,568.70 L217.72,568.70 L218.47,568.71 L219.23,568.72 L219.99,568.72 L220.75,568.73 L221.51,568.74 L222.26,568.74 L223.02,568.75 L223.78,568.76 L224.54,568.76 L225.29,568.77 L226.05,568.78 L226.81,568.79 L227.57,568.79 L228.33,568.80 L229.08,568.81 L229.84,568.82 L230.60,568.83 L231.36,568.83 L232.12,568.84 L232.87,568.85 L233.63,568.86 L234.39,568.87 L235.15,568.88 L235.91,568.89 L236.66,568.89 L237.42,568.90 L238.18,568.91 L238.94,568.92 L239.69,568.93 L240.45,568.94 L241.21,568.95 L241.97,568.96 L242.73,568.97 L243.48,568.98 L244.24,568.99 L245.00,569.00 L245.76,569.01 L246.52,569.02 L247.27,569.03 L248.03,569.04 L248.79,569.05 L249.55,569.06 L250.31,569.07 L251.06,569.08 L251.82,569.09 L252.58,569.11 L253.34,569.12 L254.09,569.13 L254.85,569.14 L255.61,569.15 L256.37,569.16 L257.13,569.17 L257.88,569.18 L258.64,569.20 L259.40,569.21 L260.16,569.22 L260.92,569.23 L261.67,569.24 L262.43,569.25 L263.19,569.27 L263.95,569.28 L264.71,569.29 L265.46,569.30 L266.22,569.31 L266.98,569.33 L267.74,569.34 L268.49,569.35 L269.25,569.36 L270.01,569.38 L270.77,569.39 L271.53,569.40 L272.28,569.41 L273.04,569.43 L273.80,569.44 L274.56,569.45 L275.32,569.47 L276.07,569.48 L276.83,569.49 L277.59,569.50 L278.35,569.52 L279.11,569.53 L279.86,569.54 L280.62,569.56 L281.38,569.57 L282.14,569.58 L282.89,569.60 L283.65,569.61 L284.41,569.62 L285.17,569.64 L285.93,569.65 L286.68,569.66 L287.44,569.68 L288.20,569.69 L288.96,569.70 L289.72,569.72 L290.47,569.73 L291.23,569.74 L291.99,569.76 L292.75,569.77 L293.51,569.78 L294.26,569.80 L295.02,569.81 L295.78,569.82 L296.54,569.84 L297.29,569.85 L298.05,569.86 L298.81,569.88 L299.57,569.89 L300.33,569.91 L301.08,569.92 L301.84,569.93 L302.60,569.95 L303.36,569.96 L304.12,569.98 L304.87,569.99 L305.63,570.01 L306.39,570.03 L307.15,570.04 L307.91,570.06 L308.66,570.07 L309.42,570.09 L310.18,570.11 L310.94,570.13 L311.69,570.14 L312.45,570.16 L313.21,570.18 L313.97,570.20 L314.73,570.22 L315.48,570.23 L316.24,570.25 L317.00,570.27 L317.76,570.29 L318.52,570.31 L319.27,570.33 L320.03,570.35 L320.79,570.37 L321.55,570.39 L322.31,570.41 L323.06,570.43 L323.82,570.45 L324.58,570.47 L325.34,570.49 L326.09,570.51 L326.85,570.53 L327.61,570.56 L328.37,570.58 L329.13,570.60 L329.88,570.62 L330.64,570.64 L331.40,570.66 L332.16,570.68 L332.92,570.71 L333.67,570.73 L334.43,570.75 L335.19,570.77 L335.95,570.79 L336.71,570.82 L337.46,570.84 L338.22,570.86 L338.98,570.88 L339.74,570.90 L340.49,570.92 L341.25,570.95 L342.01,570.97 L342.77,570.99 L343.53,571.01 L344.28,571.04 L345.04,571.06 L345.80,571.08 L346.56,571.10 L347.32,571.12 L348.07,571.14 L348.83,571.17 L349.59,571.19 L350.35,571.21 L351.11,571.23 L351.86,571.25 L352.62,571.28 L353.38,571.30 L354.14,571.32 L354.89,571.34 L355.65,571.36 L356.41,571.39 L357.17,571.41 L357.93,571.43 L358.68,571.45 L359.44,571.48 L360.20,571.50 L360.96,571.52 L361.72,571.54 L362.47,571.57 L363.23,571.59 L363.99,571.61 L364.75,571.64 L365.51,571.66 L366.26,571.68 L367.02,571.71 L367.78,571.73 L368.54,571.75 L369.29,571.78 L370.05,571.80 L370.81,571.82 L371.57,571.85 L372.33,571.87 L373.08,571.89 L373.84,571.92 L374.60,571.94 L375.36,571.97 L376.12,571.99 L376.87,572.01 L377.63,572.04 L378.39,572.06 L379.15,572.09 L379.91,572.11 L380.66,572.14 L381.42,572.16 L382.18,572.18 L382.94,572.21 L383.69,572.23 L384.45,572.26 L385.21,572.28 L385.97,572.31 L386.73,572.33 L387.48,572.36 L388.24,572.38 L389.00,572.41 L389.76,572.43 L390.52,572.46 L391.27,572.49 L392.03,572.51 L392.79,572.54 L393.55,572.56 L394.31,572.59 L395.06,572.61 L395.82,572.64 L396.58,572.66 L397.34,572.69 L398.09,572.72 L398.85,572.74 L399.61,572.77 L400.37,572.79 L401.13,572.82 L401.88,572.85 L402.64,572.87 L403.40,572.90" stroke="#000" stroke-width="1.3"/>
<path d="M101.80,540.09 L101.80,540.09 L101.80,540.09 L101.80,540.09 L101.81,540.09 L101.81,540.09 L101.82,540.09 L101.83,540.08 L101.83,540.08 L101.84,540.08 L101.86,540.08 L101.87,540.08 L101.88,540.08 L101.90,540.08 L101.92,540.07 L101.94,540.07 L101.96,540.07 L101.98,540.07 L102.00,540.06 L102.03,540.06 L102.06,540.06 L102.08,540.06 L102.11,540.05 L102.15,540.05 L102.18,540.05 L102.22,540.05 L102.25,540.04 L102.29,540.04 L102.33,540.04 L102.38,540.03 L102.42,540.03 L102.47,540.03 L102.52,540.02 L102.57,540.02 L102.62,540.02 L102.67,540.02 L102.73,540.01 L102.79,540.01 L102.85,540.01 L102.91,540.01 L102.97,540.01 L103.04,540.01 L103.11,540.00 L103.17,540.00 L103.25,540.00 L103.32,540.00 L103.39,540.00 L103.47,540.00 L103.55,540.00 L103.63,540.01 L103.72,540.01 L103.80,540.01 L103.89,540.01 L103.98,540.01 L104.07,540.02 L104.16,540.02 L104.26,540.03 L104.36,540.03 L104.45,540.04 L104.56,540.04 L104.66,540.05 L104.77,540.06 L104.87,540.06 L104.98,540.07 L105.10,540.08 L105.21,540.09 L105.33,540.10 L105.45,540.11 L105.57,540.12 L105.69,540.13 L105.82,540.15 L105.94,540.16 L106.07,540.17 L106.20,540.19 L106.34,540.20 L106.47,540.22 L106.61,540.23 L106.75,540.25 L106.89,540.27 L107.04,540.29 L107.19,540.30 L107.34,540.32 L107.49,540.34 L107.64,540.36 L107.80,540.39 L107.95,540.41 L108.11,540.43 L108.28,540.45 L108.44,540.48 L108.61,540.50 L108.78,540.53 L108.95,540.55 L109.12,540.58 L109.30,540.61 L109.48,540.64 L109.66,540.66 L109.84,540.69 L110.03,540.72 L110.22,540.75 L110.41,540.78 L110.60,540.81 L110.79,540.84 L110.99,540.88 L111.19,540.91 L111.39,540.94 L111.60,540.98 L111.80,541.01 L112.01,541.05 L112.22,541.08 L112.44,541.12 L112.65,541.15 L112.87,541.19 L113.09,541.23 L113.31,541.27 L113.54,541.30 L113.77,541.34 L114.00,541.38 L114.23,541.42 L114.47,541.46 L114.70,541.50 L114.94,541.54 L115.18,541.58 L115.43,541.63 L115.68,541.67 L115.93,541.71 L116.18,541.75 L116.43,541.80 L116.69,541.84 L116.95,541.88 L117.21,541.93 L117.47,541.97 L117.74,542.02 L118.01,542.06 L118.28,542.11 L118.55,542.15 L118.83,542.20 L119.11,542.25 L119.39,542.29 L119.67,542.34 L119.96,542.39 L120.25,542.44 L120.54,542.48 L120.83,542.53 L121.13,542.58 L121.43,542.63 L121.73,542.68 L122.03,542.73 L122.34,542.77 L122.65,542.82 L122.96,542.87 L123.27,542.92 L123.59,542.97 L123.91,543.02 L124.23,543.07 L124.55,543.12 L124.88,543.17 L125.21,543.22 L125.54,543.28 L125.87,543.33 L126.21,543.38 L126.55,543.43 L126.89,543.48 L127.23,543.53 L127.58,543.58 L127.93,543.64 L128.28,543.69 L128.64,543.74 L128.99,543.79 L129.35,543.84 L129.71,543.90 L130.08,543.95 L130.45,544.00 L130.82,544.06 L131.19,544.11 L131.56,544.16 L131.94,544.21 L132.32,544.27 L132.70,544.32 L133.09,544.37 L133.48,544.43 L133.87,544.48 L134.26,544.53 L134.66,544.59 L135.06,544.64 L135.46,544.69 L135.86,544.75 L136.27,544.80 L136.68,544.85 L137.09,544.91 L137.50,544.96 L137.92,545.02 L138.34,545.07 L138.76,545.12 L139.19,545.18 L139.61,545.23 L140.04,545.29 L140.48,545.34 L140.91,545.39 L141.35,545.45 L141.79,545.50 L142.23,545.56 L142.68,545.61 L143.13,545.66 L143.58,545.72 L144.03,545.77 L144.49,545.83 L144.95,545.88 L145.41,545.93 L145.88,545.99 L146.34,546.04 L146.81,546.10 L147.29,546.15 L147.76,546.21 L148.24,546.26 L148.72,546.31 L149.21,546.37 L149.69,546.42 L150.18,546.48 L150.67,546.53 L151.17,546.58 L151.67,546.64 L152.17,546.69 L152.67,546.75 L153.17,546.80 L153.68,546.85 L154.19,546.91 L154.71,546.96 L155.22,547.02 L155.74,547.07 L156.26,547.12 L156.79,547.18 L157.32,547.23 L157.85,547.29 L158.38,547.34 L158.91,547.39 L159.45,547.45 L159.99,547.50 L160.54,547.56 L161.08,547.61 L161.63,547.66 L162.19,547.72 L162.74,547.77 L163.30,547.82 L163.86,547.88 L164.42,547.93 L164.99,547.99 L165.56,548.04 L166.13,548.09 L166.70,548.15 L167.28,548.20 L167.86,548.25 L168.44,548.31 L169.03,548.36 L169.62,548.41 L170.21,548.47 L170.80,548.52 L171.40,548.57 L172.00,548.63 L172.60,548.68 L173.21,548.74 L173.81,548.79 L174.42,548.84 L175.04,548.90 L175.65,548.95 L176.27,549.00 L176.90,549.06 L177.52,549.11 L178.15,549.16 L178.78,549.22 L179.41,549.27 L180.05,549.32 L180.69,549.38 L181.33,549.43 L181.97,549.48 L182.62,549.54 L183.27,549.59 L183.92,549.64 L184.58,549.69 L185.24,549.75 L185.90,549.80 L186.57,549.85 L187.23,549.91 L187.90,549.96 L188.58,550.01 L189.25,550.07 L189.93,550.12 L190.61,550.17 L191.30,550.23 L191.99,550.28 L192.68,550.33 L193.37,550.39 L194.07,550.44 L194.76,550.49 L195.47,550.55 L196.17,550.60 L196.88,550.65 L197.59,550.71 L198.30,550.76 L199.02,550.81 L199.74,550.86 L200.46,550.92 L201.18,550.97 L201.91,551.02 L202.64,551.08 L203.38,551.13 L204.11,551.18 L204.85,551.24 L205.60,551.29 L206.34,551.34 L207.09,551.40 L207.84,551.45 L208.59,551.50 L209.35,551.56 L210.11,551.61 L210.87,551.66 L211.64,551.72 L212.41,551.77 L213.18,551.83 L213.95,551.88 L214.73,551.93 L215.51,551.99 L216.29,552.04 L217.08,552.09 L217.87,552.15 L218.66,552.20 L219.46,552.25 L220.25,552.31 L221.06,552.36 L221.86,552.42 L222.67,552.47 L223.48,552.52 L224.29,552.58 L225.10,552.63 L225.92,552.69 L226.74,552.74 L227.57,552.79 L228.40,552.85 L229.23,552.90 L230.06,552.96 L230.90,553.01 L231.74,553.07 L232.58,553.12 L233.42,553.17 L234.27,553.23 L235.12,553.28 L235.98,553.34 L236.83,553.39 L237.69,553.45 L238.56,553.50 L239.42,553.56 L240.29,553.61 L241.16,553.67 L242.04,553.72 L242.92,553.78 L243.80,553.83 L244.68,553.89 L245.57,553.94 L246.46,554.00 L247.35,554.06 L248.25,554.11 L249.15,554.17 L250.05,554.22 L250.95,554.28 L251.86,554.33 L252.77,554.39 L253.69,554.45 L254.60,554.50 L255.52,554.56 L256.45,554.61 L257.37,554.67 L258.30,554.73 L259.23,554.78 L260.17,554.84 L261.11,554.90 L262.05,554.96 L262.99,555.01 L263.94,555.07 L264.89,555.13 L265.84,555.18 L266.80,555.24 L267.76,555.30 L268.72,555.36 L269.69,555.41 L270.65,555.47 L271.63,555.53 L272.60,555.59 L273.58,555.65 L274.56,555.70 L275.54,555.76 L276.53,555.82 L277.52,555.88 L278.51,555.94 L279.51,556.00 L280.51,556.06 L281.51,556.12 L282.51,556.17 L283.52,556.23 L284.53,556.29 L285.55,556.35 L286.56,556.41 L287.58,556.47 L288.61,556.53 L289.63,556.59 L290.66,556.65 L291.69,556.71 L292.73,556.77 L293.77,556.84 L294.81,556.90 L295.86,556.96 L296.90,557.02 L297.95,557.08 L299.01,557.14 L300.07,557.20 L301.13,557.26 L302.19,557.33 L303.26,557.39 L304.32,557.45 L305.40,557.51 L306.47,557.58 L307.55,557.64 L308.63,557.70 L309.72,557.76 L310.81,557.83 L311.90,557.89 L312.99,557.96 L314.09,558.02 L315.19,558.08 L316.29,558.15 L317.40,558.21 L318.51,558.28 L319.62,558.34 L320.74,558.41 L321.86,558.47 L322.98,558.54 L324.11,558.60 L325.23,558.67 L326.37,558.73 L327.50,558.80 L328.64,558.86 L329.78,558.93 L330.92,559.00 L332.07,559.06 L333.22,559.13 L334.37,559.20 L335.53,559.27 L336.69,559.33 L337.85,559.40 L339.02,559.47 L340.19,559.54 L341.36,559.61 L342.54,559.67 L343.71,559.74 L344.90,559.81 L346.08,559.88 L347.27,559.95 L348.46,560.02 L349.65,560.09 L350.85,560.16 L352.05,560.23 L353.26,560.30 L354.46,560.37 L355.67,560.44 L356.89,560.52 L358.10,560.59 L359.32,560.66 L360.54,560.73 L361.77,560.80 L363.00,560.88 L364.23,560.95 L365.47,561.02 L366.70,561.09 L367.95,561.17 L369.19,561.24 L370.44,561.32 L371.69,561.39 L372.94,561.47 L374.20,561.54 L375.46,561.62 L376.73,561.69 L377.99,561.77 L379.26,561.84 L380.54,561.92 L381.81,561.99 L383.09,562.07 L384.37,562.15 L385.66,562.23 L386.95,562.30 L388.24,562.38 L389.54,562.46 L390.84,562.54 L392.14,562.62 L393.44,562.70 L394.75,562.78 L396.06,562.85 L397.38,562.93 L398.70,563.01 L400.02,563.10 L401.34,563.18 L402.67,563.26 L404.00,563.34" stroke="#000" stroke-width="2.85" stroke-dasharray="19.6 3.5 4.4 3.9"/>
<path d="M101.80,510.30 L101.80,510.30 L101.80,510.30 L101.80,510.30 L101.81,510.30 L101.81,510.30 L101.82,510.30 L101.83,510.30 L101.83,510.30 L101.84,510.30 L101.86,510.30 L101.87,510.30 L101.88,510.30 L101.90,510.31 L101.92,510.31 L101.94,510.31 L101.96,510.31 L101.98,510.31 L102.00,510.32 L102.03,510.32 L102.06,510.32 L102.08,510.33 L102.11,510.33 L102.15,510.33 L102.18,510.34 L102.22,510.34 L102.25,510.35 L102.29,510.35 L102.33,510.36 L102.38,510.36 L102.42,510.37 L102.47,510.38 L102.52,510.38 L102.57,510.39 L102.62,510.40 L102.67,510.41 L102.73,510.42 L102.79,510.43 L102.85,510.44 L102.91,510.45 L102.97,510.46 L103.04,510.47 L103.11,510.49 L103.17,510.50 L103.25,510.51 L103.32,510.53 L103.39,510.55 L103.47,510.56 L103.55,510.58 L103.63,510.60 L103.72,510.62 L103.80,510.63 L103.89,510.65 L103.98,510.68 L104.07,510.70 L104.16,510.72 L104.26,510.74 L104.36,510.77 L104.45,510.79 L104.56,510.82 L104.66,510.85 L104.77,510.88 L104.87,510.90 L104.98,510.93 L105.10,510.96 L105.21,511.00 L105.33,511.03 L105.45,511.06 L105.57,511.10 L105.69,511.13 L105.82,511.17 L105.94,511.21 L106.07,511.24 L106.20,511.28 L106.34,511.32 L106.47,511.36 L106.61,511.41 L106.75,511.45 L106.89,511.49 L107.04,511.54 L107.19,511.58 L107.34,511.63 L107.49,511.68 L107.64,511.73 L107.80,511.78 L107.95,511.83 L108.11,511.88 L108.28,511.93 L108.44,511.98 L108.61,512.03 L108.78,512.09 L108.95,512.14 L109.12,512.20 L109.30,512.26 L109.48,512.32 L109.66,512.37 L109.84,512.43 L110.03,512.49 L110.22,512.56 L110.41,512.62 L110.60,512.68 L110.79,512.74 L110.99,512.81 L111.19,512.87 L111.39,512.94 L111.60,513.00 L111.80,513.07 L112.01,513.14 L112.22,513.20 L112.44,513.27 L112.65,513.34 L112.87,513.41 L113.09,513.48 L113.31,513.55 L113.54,513.63 L113.77,513.70 L114.00,513.77 L114.23,513.84 L114.47,513.92 L114.70,513.99 L114.94,514.07 L115.18,514.14 L115.43,514.22 L115.68,514.30 L115.93,514.37 L116.18,514.45 L116.43,514.53 L116.69,514.61 L116.95,514.68 L117.21,514.76 L117.47,514.84 L117.74,514.92 L118.01,515.00 L118.28,515.08 L118.55,515.17 L118.83,515.25 L119.11,515.33 L119.39,515.41 L119.67,515.49 L119.96,515.58 L120.25,515.66 L120.54,515.74 L120.83,515.83 L121.13,515.91 L121.43,515.99 L121.73,516.08 L122.03,516.16 L122.34,516.25 L122.65,516.33 L122.96,516.42 L123.27,516.50 L123.59,516.59 L123.91,516.67 L124.23,516.76 L124.55,516.85 L124.88,516.93 L125.21,517.02 L125.54,517.11 L125.87,517.19 L126.21,517.28 L126.55,517.37 L126.89,517.46 L127.23,517.54 L127.58,517.63 L127.93,517.72 L128.28,517.81 L128.64,517.90 L128.99,517.99 L129.35,518.07 L129.71,518.16 L130.08,518.25 L130.45,518.34 L130.82,518.43 L131.19,518.52 L131.56,518.61 L131.94,518.70 L132.32,518.78 L132.70,518.87 L133.09,518.96 L133.48,519.05 L133.87,519.14 L134.26,519.23 L134.66,519.32 L135.06,519.41 L135.46,519.50 L135.86,519.59 L136.27,519.68 L136.68,519.77 L137.09,519.86 L137.50,519.95 L137.92,520.04 L138.34,520.13 L138.76,520.22 L139.19,520.31 L139.61,520.40 L140.04,520.49 L140.48,520.58 L140.91,520.67 L141.35,520.76 L141.79,520.85 L142.23,520.94 L142.68,521.03 L143.13,521.12 L143.58,521.21 L144.03,521.30 L144.49,521.39 L144.95,521.48 L145.41,521.57 L145.88,521.66 L146.34,521.75 L146.81,521.84 L147.29,521.93 L147.76,522.02 L148.24,522.11 L148.72,522.20 L149.21,522.29 L149.69,522.38 L150.18,522.47 L150.67,522.56 L151.17,522.64 L151.67,522.73 L152.17,522.82 L152.67,522.91 L153.17,523.00 L153.68,523.09 L154.19,523.18 L154.71,523.27 L155.22,523.36 L155.74,523.45 L156.26,523.54 L156.79,523.63 L157.32,523.72 L157.85,523.81 L158.38,523.90 L158.91,523.99 L159.45,524.08 L159.99,524.16 L160.54,524.25 L161.08,524.34 L161.63,524.43 L162.19,524.52 L162.74,524.61 L163.30,524.70 L163.86,524.79 L164.42,524.88 L164.99,524.97 L165.56,525.05 L166.13,525.14 L166.70,525.23 L167.28,525.32 L167.86,525.41 L168.44,525.50 L169.03,525.59 L169.62,525.68 L170.21,525.76 L170.80,525.85 L171.40,525.94 L172.00,526.03 L172.60,526.12 L173.21,526.21 L173.81,526.30 L174.42,526.38 L175.04,526.47 L175.65,526.56 L176.27,526.65 L176.90,526.74 L177.52,526.83 L178.15,526.91 L178.78,527.00 L179.41,527.09 L180.05,527.18 L180.69,527.27 L181.33,527.36 L181.97,527.44 L182.62,527.53 L183.27,527.62 L183.92,527.71 L184.58,527.80 L185.24,527.89 L185.90,527.97 L186.57,528.06 L187.23,528.15 L187.90,528.24 L188.58,528.33 L189.25,528.41 L189.93,528.50 L190.61,528.59 L191.30,528.68 L191.99,528.77 L192.68,528.86 L193.37,528.94 L194.07,529.03 L194.76,529.12 L195.47,529.21 L196.17,529.30 L196.88,529.38 L197.59,529.47 L198.30,529.56 L199.02,529.65 L199.74,529.74 L200.46,529.83 L201.18,529.91 L201.91,530.00 L202.64,530.09 L203.38,530.18 L204.11,530.27 L204.85,530.36 L205.60,530.44 L206.34,530.53 L207.09,530.62 L207.84,530.71 L208.59,530.80 L209.35,530.89 L210.11,530.98 L210.87,531.06 L211.64,531.15 L212.41,531.24 L213.18,531.33 L213.95,531.42 L214.73,531.51 L215.51,531.60 L216.29,531.69 L217.08,531.78 L217.87,531.86 L218.66,531.95 L219.46,532.04 L220.25,532.13 L221.06,532.22 L221.86,532.31 L222.67,532.40 L223.48,532.49 L224.29,532.58 L225.10,532.67 L225.92,532.76 L226.74,532.85 L227.57,532.94 L228.40,533.03 L229.23,533.12 L230.06,533.21 L230.90,533.30 L231.74,533.39 L232.58,533.48 L233.42,533.57 L234.27,533.66 L235.12,533.75 L235.98,533.84 L236.83,533.93 L237.69,534.02 L238.56,534.11 L239.42,534.20 L240.29,534.30 L241.16,534.39 L242.04,534.48 L242.92,534.57 L243.80,534.66 L244.68,534.75 L245.57,534.84 L246.46,534.94 L247.35,535.03 L248.25,535.12 L249.15,535.21 L250.05,535.30 L250.95,535.40 L251.86,535.49 L252.77,535.58 L253.69,535.67 L254.60,535.77 L255.52,535.86 L256.45,535.95 L257.37,536.05 L258.30,536.14 L259.23,536.23 L260.17,536.33 L261.11,536.42 L262.05,536.51 L262.99,536.61 L263.94,536.70 L264.89,536.80 L265.84,536.89 L266.80,536.99 L267.76,537.08 L268.72,537.18 L269.69,537.27 L270.65,537.37 L271.63,537.46 L272.60,537.56 L273.58,537.65 L274.56,537.75 L275.54,537.84 L276.53,537.94 L277.52,538.04 L278.51,538.13 L279.51,538.23 L280.51,538.33 L281.51,538.42 L282.51,538.52 L283.52,538.62 L284.53,538.72 L285.55,538.81 L286.56,538.91 L287.58,539.01 L288.61,539.11 L289.63,539.21 L290.66,539.31 L291.69,539.41 L292.73,539.50 L293.77,539.60 L294.81,539.70 L295.86,539.80 L296.90,539.90 L297.95,540.00 L299.01,540.10 L300.07,540.21 L301.13,540.31 L302.19,540.41 L303.26,540.51 L304.32,540.61 L305.40,540.71 L306.47,540.81 L307.55,540.92 L308.63,541.02 L309.72,541.12 L310.81,541.22 L311.90,541.33 L312.99,541.43 L314.09,541.53 L315.19,541.64 L316.29,541.74 L317.40,541.85 L318.51,541.95 L319.62,542.06 L320.74,542.16 L321.86,542.27 L322.98,542.37 L324.11,542.48 L325.23,542.58 L326.37,542.69 L327.50,542.80 L328.64,542.90 L329.78,543.01 L330.92,543.12 L332.07,543.23 L333.22,543.34 L334.37,543.44 L335.53,543.55 L336.69,543.66 L337.85,543.77 L339.02,543.88 L340.19,543.99 L341.36,544.10 L342.54,544.21 L343.71,544.32 L344.90,544.43 L346.08,544.54 L347.27,544.66 L348.46,544.77 L349.65,544.88 L350.85,544.99 L352.05,545.11 L353.26,545.22 L354.46,545.33 L355.67,545.45 L356.89,545.56 L358.10,545.68 L359.32,545.79 L360.54,545.91 L361.77,546.02 L363.00,546.14 L364.23,546.25 L365.47,546.37 L366.70,546.49 L367.95,546.60 L369.19,546.72 L370.44,546.84 L371.69,546.96 L372.94,547.08 L374.20,547.20 L375.46,547.32 L376.73,547.44 L377.99,547.56 L379.26,547.68 L380.54,547.80 L381.81,547.92 L383.09,548.04 L384.37,548.16 L385.66,548.28 L386.95,548.41 L388.24,548.53 L389.54,548.65 L390.84,548.78 L392.14,548.90 L393.44,549.03 L394.75,549.15 L396.06,549.28 L397.38,549.40 L398.70,549.53 L400.02,549.66 L401.34,549.78 L402.67,549.91 L404.00,550.04" stroke="#0000ff" stroke-width="2.7" stroke-dasharray="30 9" stroke-dashoffset="1.3"/>
<path d="M122.10,299.76 L122.10,299.77 L122.10,299.78 L122.10,299.81 L122.11,299.86 L122.11,299.92 L122.12,299.99 L122.12,300.09 L122.13,300.20 L122.14,300.32 L122.15,300.47 L122.16,300.64 L122.18,300.82 L122.19,301.02 L122.21,301.24 L122.23,301.48 L122.25,301.74 L122.27,302.03 L122.29,302.33 L122.31,302.65 L122.34,302.99 L122.36,303.35 L122.39,303.73 L122.42,304.13 L122.46,304.55 L122.49,304.99 L122.52,305.45 L122.56,305.93 L122.60,306.43 L122.64,306.95 L122.68,307.49 L122.72,308.05 L122.77,308.63 L122.82,309.23 L122.86,309.85 L122.92,310.48 L122.97,311.14 L123.02,311.81 L123.08,312.51 L123.13,313.22 L123.19,313.94 L123.25,314.69 L123.32,315.46 L123.38,316.24 L123.45,317.03 L123.52,317.85 L123.59,318.68 L123.66,319.53 L123.73,320.39 L123.81,321.27 L123.89,322.16 L123.97,323.07 L124.05,323.99 L124.13,324.93 L124.22,325.88 L124.30,326.84 L124.39,327.82 L124.48,328.81 L124.58,329.81 L124.67,330.82 L124.77,331.85 L124.87,332.89 L124.97,333.94 L125.07,334.99 L125.18,336.06 L125.28,337.14 L125.39,338.23 L125.50,339.33 L125.61,340.43 L125.73,341.55 L125.85,342.67 L125.96,343.80 L126.08,344.94 L126.21,346.08 L126.33,347.23 L126.46,348.39 L126.59,349.56 L126.72,350.72 L126.85,351.90 L126.99,353.08 L127.12,354.26 L127.26,355.45 L127.40,356.64 L127.55,357.84 L127.69,359.03 L127.84,360.23 L127.99,361.44 L128.14,362.64 L128.30,363.85 L128.45,365.06 L128.61,366.27 L128.77,367.49 L128.93,368.70 L129.10,369.91 L129.26,371.13 L129.43,372.34 L129.60,373.56 L129.78,374.77 L129.95,375.98 L130.13,377.20 L130.31,378.41 L130.49,379.62 L130.67,380.83 L130.86,382.03 L131.05,383.24 L131.24,384.44 L131.43,385.64 L131.63,386.83 L131.82,388.03 L132.02,389.22 L132.22,390.41 L132.43,391.59 L132.63,392.77 L132.84,393.95 L133.05,395.13 L133.26,396.30 L133.48,397.46 L133.70,398.62 L133.91,399.78 L134.14,400.93 L134.36,402.08 L134.59,403.23 L134.81,404.37 L135.04,405.50 L135.28,406.63 L135.51,407.75 L135.75,408.87 L135.99,409.98 L136.23,411.09 L136.47,412.20 L136.72,413.29 L136.97,414.38 L137.22,415.47 L137.47,416.55 L137.73,417.62 L137.99,418.69 L138.25,419.75 L138.51,420.81 L138.77,421.86 L139.04,422.91 L139.31,423.94 L139.58,424.98 L139.85,426.00 L140.13,427.02 L140.41,428.04 L140.69,429.04 L140.97,430.04 L141.26,431.04 L141.55,432.03 L141.84,433.01 L142.13,433.99 L142.42,434.95 L142.72,435.92 L143.02,436.87 L143.32,437.83 L143.63,438.77 L143.93,439.71 L144.24,440.64 L144.56,441.56 L144.87,442.48 L145.19,443.39 L145.50,444.30 L145.83,445.20 L146.15,446.09 L146.47,446.98 L146.80,447.86 L147.13,448.73 L147.47,449.60 L147.80,450.46 L148.14,451.32 L148.48,452.17 L148.82,453.01 L149.17,453.85 L149.51,454.68 L149.86,455.50 L150.22,456.32 L150.57,457.13 L150.93,457.94 L151.29,458.74 L151.65,459.54 L152.01,460.32 L152.38,461.11 L152.75,461.88 L153.12,462.65 L153.50,463.42 L153.87,464.18 L154.25,464.93 L154.63,465.68 L155.02,466.42 L155.40,467.16 L155.79,467.89 L156.18,468.61 L156.58,469.33 L156.97,470.05 L157.37,470.76 L157.77,471.46 L158.18,472.16 L158.58,472.85 L158.99,473.53 L159.40,474.22 L159.82,474.89 L160.23,475.56 L160.65,476.23 L161.07,476.89 L161.50,477.54 L161.92,478.19 L162.35,478.84 L162.78,479.48 L163.22,480.11 L163.65,480.74 L164.09,481.37 L164.53,481.99 L164.98,482.60 L165.42,483.21 L165.87,483.82 L166.32,484.42 L166.78,485.02 L167.23,485.61 L167.69,486.19 L168.15,486.78 L168.62,487.35 L169.08,487.93 L169.55,488.49 L170.02,489.06 L170.50,489.62 L170.97,490.17 L171.45,490.72 L171.93,491.27 L172.42,491.81 L172.91,492.35 L173.40,492.88 L173.89,493.41 L174.38,493.94 L174.88,494.46 L175.38,494.98 L175.88,495.49 L176.39,496.00 L176.89,496.50 L177.40,497.01 L177.91,497.50 L178.43,498.00 L178.95,498.48 L179.47,498.97 L179.99,499.45 L180.52,499.93 L181.04,500.40 L181.57,500.87 L182.11,501.34 L182.64,501.80 L183.18,502.26 L183.72,502.72 L184.27,503.17 L184.81,503.62 L185.36,504.07 L185.91,504.51 L186.47,504.95 L187.02,505.38 L187.58,505.81 L188.14,506.24 L188.71,506.66 L189.28,507.09 L189.85,507.50 L190.42,507.92 L190.99,508.33 L191.57,508.74 L192.15,509.14 L192.73,509.55 L193.32,509.95 L193.91,510.34 L194.50,510.74 L195.09,511.13 L195.69,511.51 L196.29,511.90 L196.89,512.28 L197.49,512.66 L198.10,513.03 L198.71,513.40 L199.32,513.77 L199.93,514.14 L200.55,514.50 L201.17,514.86 L201.79,515.22 L202.42,515.58 L203.05,515.93 L203.68,516.28 L204.31,516.63 L204.95,516.97 L205.59,517.31 L206.23,517.65 L206.87,517.99 L207.52,518.33 L208.17,518.66 L208.82,518.99 L209.47,519.31 L210.13,519.64 L210.79,519.96 L211.45,520.28 L212.12,520.60 L212.79,520.91 L213.46,521.22 L214.13,521.53 L214.81,521.84 L215.49,522.15 L216.17,522.45 L216.85,522.75 L217.54,523.05 L218.23,523.35 L218.92,523.64 L219.62,523.93 L220.32,524.22 L221.02,524.51 L221.72,524.80 L222.43,525.08 L223.13,525.36 L223.85,525.64 L224.56,525.92 L225.28,526.19 L226.00,526.47 L226.72,526.74 L227.44,527.01 L228.17,527.28 L228.90,527.54 L229.64,527.80 L230.37,528.07 L231.11,528.33 L231.85,528.58 L232.60,528.84 L233.34,529.09 L234.09,529.35 L234.85,529.60 L235.60,529.85 L236.36,530.09 L237.12,530.34 L237.88,530.58 L238.65,530.82 L239.42,531.06 L240.19,531.30 L240.97,531.54 L241.74,531.78 L242.52,532.01 L243.31,532.24 L244.09,532.47 L244.88,532.70 L245.67,532.93 L246.47,533.15 L247.26,533.38 L248.06,533.60 L248.86,533.82 L249.67,534.04 L250.48,534.26 L251.29,534.48 L252.10,534.69 L252.92,534.91 L253.74,535.12 L254.56,535.33 L255.38,535.54 L256.21,535.75 L257.04,535.95 L257.87,536.16 L258.71,536.36 L259.55,536.57 L260.39,536.77 L261.23,536.97 L262.08,537.17 L262.93,537.36 L263.78,537.56 L264.64,537.76 L265.50,537.95 L266.36,538.14 L267.22,538.34 L268.09,538.53 L268.96,538.71 L269.83,538.90 L270.70,539.09 L271.58,539.28 L272.46,539.46 L273.35,539.64 L274.23,539.83 L275.12,540.01 L276.01,540.19 L276.91,540.37 L277.81,540.55 L278.71,540.72 L279.61,540.90 L280.52,541.08 L281.43,541.25 L282.34,541.42 L283.25,541.60 L284.17,541.77 L285.09,541.94 L286.01,542.11 L286.94,542.28 L287.87,542.45 L288.80,542.61 L289.74,542.78 L290.67,542.94 L291.61,543.11 L292.56,543.27 L293.50,543.43 L294.45,543.60 L295.40,543.76 L296.36,543.92 L297.31,544.08 L298.28,544.24 L299.24,544.39 L300.20,544.55 L301.17,544.71 L302.15,544.86 L303.12,545.02 L304.10,545.17 L305.08,545.33 L306.06,545.48 L307.05,545.63 L308.04,545.79 L309.03,545.94 L310.02,546.09 L311.02,546.24 L312.02,546.39 L313.02,546.54 L314.03,546.68 L315.04,546.83 L316.05,546.98 L317.07,547.13 L318.08,547.27 L319.11,547.42 L320.13,547.56 L321.16,547.71 L322.19,547.85 L323.22,547.99 L324.25,548.14 L325.29,548.28 L326.33,548.42 L327.38,548.56 L328.42,548.71 L329.47,548.85 L330.53,548.99 L331.58,549.13 L332.64,549.27 L333.70,549.41 L334.76,549.55 L335.83,549.69 L336.90,549.82 L337.98,549.96 L339.05,550.10 L340.13,550.24 L341.21,550.38 L342.30,550.51 L343.38,550.65 L344.47,550.79 L345.57,550.92 L346.66,551.06 L347.76,551.19 L348.87,551.33 L349.97,551.47 L351.08,551.60 L352.19,551.74 L353.30,551.87 L354.42,552.01 L355.54,552.14 L356.66,552.27 L357.79,552.41 L358.92,552.54 L360.05,552.68 L361.18,552.81 L362.32,552.95 L363.46,553.08 L364.61,553.21 L365.75,553.35 L366.90,553.48 L368.05,553.62 L369.21,553.75 L370.37,553.88 L371.53,554.02 L372.69,554.15 L373.86,554.28 L375.03,554.42 L376.20,554.55 L377.38,554.69 L378.56,554.82 L379.74,554.95 L380.92,555.09 L382.11,555.22 L383.30,555.36 L384.50,555.49 L385.69,555.63 L386.89,555.76 L388.10,555.90 L389.30,556.03 L390.51,556.17 L391.72,556.30 L392.94,556.44 L394.15,556.57 L395.37,556.71 L396.60,556.85 L397.82,556.98 L399.05,557.12 L400.28,557.26 L401.52,557.40 L402.76,557.53 L404.00,557.67" stroke="#00a600" stroke-width="3.3" stroke-dasharray="2.9 1.9"/>
<path d="M124.40,299.94 L124.40,299.95 L124.40,299.96 L124.40,299.99 L124.41,300.04 L124.41,300.10 L124.42,300.18 L124.42,300.28 L124.43,300.39 L124.44,300.52 L124.45,300.68 L124.46,300.85 L124.48,301.04 L124.49,301.25 L124.51,301.48 L124.53,301.73 L124.54,302.00 L124.57,302.29 L124.59,302.60 L124.61,302.93 L124.64,303.28 L124.66,303.66 L124.69,304.05 L124.72,304.46 L124.75,304.90 L124.79,305.36 L124.82,305.83 L124.86,306.33 L124.89,306.85 L124.93,307.38 L124.98,307.94 L125.02,308.52 L125.06,309.12 L125.11,309.73 L125.16,310.37 L125.21,311.03 L125.26,311.70 L125.31,312.40 L125.37,313.11 L125.43,313.84 L125.48,314.59 L125.55,315.36 L125.61,316.14 L125.67,316.94 L125.74,317.76 L125.81,318.60 L125.87,319.45 L125.95,320.32 L126.02,321.20 L126.09,322.10 L126.17,323.01 L126.25,323.94 L126.33,324.88 L126.41,325.84 L126.50,326.81 L126.59,327.79 L126.67,328.79 L126.76,329.79 L126.86,330.81 L126.95,331.84 L127.05,332.89 L127.14,333.94 L127.24,335.00 L127.35,336.07 L127.45,337.16 L127.56,338.25 L127.66,339.35 L127.77,340.46 L127.89,341.57 L128.00,342.70 L128.11,343.83 L128.23,344.97 L128.35,346.11 L128.47,347.26 L128.60,348.42 L128.72,349.58 L128.85,350.74 L128.98,351.91 L129.11,353.09 L129.25,354.27 L129.38,355.45 L129.52,356.63 L129.66,357.82 L129.80,359.01 L129.95,360.20 L130.09,361.39 L130.24,362.59 L130.39,363.79 L130.55,364.98 L130.70,366.18 L130.86,367.38 L131.02,368.58 L131.18,369.77 L131.34,370.97 L131.51,372.16 L131.67,373.36 L131.84,374.55 L132.01,375.74 L132.19,376.93 L132.36,378.12 L132.54,379.31 L132.72,380.49 L132.90,381.67 L133.09,382.85 L133.28,384.02 L133.46,385.19 L133.66,386.36 L133.85,387.52 L134.04,388.68 L134.24,389.84 L134.44,390.99 L134.64,392.14 L134.85,393.28 L135.05,394.42 L135.26,395.55 L135.47,396.68 L135.69,397.81 L135.90,398.93 L136.12,400.04 L136.34,401.15 L136.56,402.25 L136.78,403.35 L137.01,404.44 L137.24,405.53 L137.47,406.61 L137.70,407.68 L137.94,408.75 L138.17,409.82 L138.41,410.87 L138.66,411.92 L138.90,412.97 L139.15,414.01 L139.40,415.04 L139.65,416.07 L139.90,417.09 L140.16,418.10 L140.41,419.11 L140.67,420.11 L140.94,421.11 L141.20,422.10 L141.47,423.08 L141.74,424.06 L142.01,425.03 L142.28,425.99 L142.56,426.95 L142.84,427.90 L143.12,428.85 L143.40,429.79 L143.69,430.72 L143.98,431.65 L144.27,432.57 L144.56,433.48 L144.85,434.39 L145.15,435.29 L145.45,436.18 L145.75,437.07 L146.06,437.95 L146.36,438.83 L146.67,439.70 L146.98,440.56 L147.30,441.42 L147.61,442.27 L147.93,443.12 L148.25,443.96 L148.58,444.79 L148.90,445.62 L149.23,446.44 L149.56,447.26 L149.89,448.07 L150.23,448.87 L150.56,449.67 L150.90,450.46 L151.25,451.25 L151.59,452.03 L151.94,452.81 L152.29,453.58 L152.64,454.34 L152.99,455.10 L153.35,455.86 L153.71,456.60 L154.07,457.35 L154.43,458.08 L154.80,458.82 L155.17,459.54 L155.54,460.27 L155.91,460.98 L156.29,461.69 L156.67,462.40 L157.05,463.10 L157.43,463.80 L157.82,464.49 L158.21,465.18 L158.60,465.86 L158.99,466.53 L159.38,467.21 L159.78,467.87 L160.18,468.53 L160.59,469.19 L160.99,469.84 L161.40,470.49 L161.81,471.14 L162.22,471.78 L162.64,472.41 L163.06,473.04 L163.48,473.67 L163.90,474.29 L164.32,474.90 L164.75,475.52 L165.18,476.12 L165.61,476.73 L166.05,477.33 L166.49,477.92 L166.93,478.51 L167.37,479.10 L167.81,479.68 L168.26,480.26 L168.71,480.84 L169.16,481.41 L169.62,481.98 L170.08,482.54 L170.54,483.10 L171.00,483.65 L171.46,484.20 L171.93,484.75 L172.40,485.30 L172.87,485.84 L173.35,486.37 L173.83,486.90 L174.31,487.43 L174.79,487.96 L175.28,488.48 L175.76,489.00 L176.25,489.51 L176.75,490.02 L177.24,490.53 L177.74,491.03 L178.24,491.54 L178.75,492.03 L179.25,492.53 L179.76,493.02 L180.27,493.50 L180.78,493.99 L181.30,494.47 L181.82,494.94 L182.34,495.42 L182.86,495.89 L183.39,496.36 L183.92,496.82 L184.45,497.28 L184.98,497.74 L185.52,498.20 L186.06,498.65 L186.60,499.10 L187.15,499.54 L187.69,499.98 L188.24,500.42 L188.79,500.86 L189.35,501.29 L189.91,501.73 L190.47,502.15 L191.03,502.58 L191.59,503.00 L192.16,503.42 L192.73,503.84 L193.30,504.25 L193.88,504.66 L194.46,505.07 L195.04,505.47 L195.62,505.88 L196.21,506.28 L196.80,506.67 L197.39,507.07 L197.98,507.46 L198.58,507.85 L199.18,508.24 L199.78,508.62 L200.38,509.00 L200.99,509.38 L201.60,509.76 L202.21,510.13 L202.83,510.50 L203.44,510.87 L204.06,511.24 L204.69,511.60 L205.31,511.96 L205.94,512.32 L206.57,512.68 L207.20,513.03 L207.84,513.38 L208.48,513.73 L209.12,514.08 L209.77,514.42 L210.41,514.76 L211.06,515.10 L211.71,515.44 L212.37,515.77 L213.03,516.11 L213.69,516.44 L214.35,516.77 L215.01,517.09 L215.68,517.42 L216.35,517.74 L217.03,518.06 L217.70,518.37 L218.38,518.69 L219.06,519.00 L219.75,519.31 L220.43,519.62 L221.12,519.93 L221.81,520.23 L222.51,520.53 L223.21,520.83 L223.91,521.13 L224.61,521.43 L225.32,521.72 L226.02,522.01 L226.74,522.30 L227.45,522.59 L228.17,522.88 L228.89,523.16 L229.61,523.45 L230.33,523.73 L231.06,524.00 L231.79,524.28 L232.52,524.56 L233.26,524.83 L234.00,525.10 L234.74,525.37 L235.48,525.63 L236.23,525.90 L236.98,526.16 L237.73,526.43 L238.48,526.69 L239.24,526.94 L240.00,527.20 L240.76,527.45 L241.53,527.71 L242.30,527.96 L243.07,528.21 L243.84,528.46 L244.62,528.70 L245.40,528.95 L246.18,529.19 L246.96,529.43 L247.75,529.67 L248.54,529.91 L249.33,530.14 L250.13,530.38 L250.93,530.61 L251.73,530.84 L252.53,531.07 L253.34,531.30 L254.15,531.53 L254.96,531.75 L255.78,531.98 L256.60,532.20 L257.42,532.42 L258.24,532.64 L259.07,532.86 L259.90,533.07 L260.73,533.29 L261.56,533.50 L262.40,533.71 L263.24,533.93 L264.08,534.13 L264.93,534.34 L265.78,534.55 L266.63,534.75 L267.48,534.96 L268.34,535.16 L269.20,535.36 L270.06,535.56 L270.92,535.76 L271.79,535.96 L272.66,536.16 L273.54,536.35 L274.41,536.55 L275.29,536.74 L276.17,536.93 L277.06,537.12 L277.95,537.31 L278.84,537.50 L279.73,537.69 L280.63,537.87 L281.52,538.06 L282.43,538.24 L283.33,538.42 L284.24,538.60 L285.15,538.78 L286.06,538.96 L286.98,539.14 L287.90,539.32 L288.82,539.50 L289.74,539.67 L290.67,539.85 L291.60,540.02 L292.53,540.19 L293.47,540.36 L294.40,540.53 L295.34,540.70 L296.29,540.87 L297.24,541.04 L298.19,541.21 L299.14,541.37 L300.09,541.54 L301.05,541.71 L302.01,541.87 L302.98,542.03 L303.94,542.19 L304.91,542.36 L305.88,542.52 L306.86,542.68 L307.84,542.84 L308.82,543.00 L309.80,543.15 L310.79,543.31 L311.78,543.47 L312.77,543.62 L313.77,543.78 L314.76,543.93 L315.77,544.09 L316.77,544.24 L317.78,544.39 L318.79,544.55 L319.80,544.70 L320.81,544.85 L321.83,545.00 L322.85,545.15 L323.88,545.30 L324.90,545.45 L325.93,545.60 L326.97,545.75 L328.00,545.90 L329.04,546.04 L330.08,546.19 L331.12,546.34 L332.17,546.49 L333.22,546.63 L334.27,546.78 L335.33,546.92 L336.39,547.07 L337.45,547.21 L338.51,547.36 L339.58,547.50 L340.65,547.65 L341.72,547.79 L342.80,547.94 L343.88,548.08 L344.96,548.22 L346.04,548.37 L347.13,548.51 L348.22,548.65 L349.32,548.80 L350.41,548.94 L351.51,549.08 L352.61,549.23 L353.72,549.37 L354.83,549.51 L355.94,549.65 L357.05,549.80 L358.17,549.94 L359.29,550.08 L360.41,550.23 L361.53,550.37 L362.66,550.51 L363.79,550.66 L364.93,550.80 L366.06,550.94 L367.20,551.09 L368.35,551.23 L369.49,551.37 L370.64,551.52 L371.79,551.66 L372.95,551.81 L374.11,551.95 L375.27,552.10 L376.43,552.24 L377.60,552.39 L378.76,552.54 L379.94,552.68 L381.11,552.83 L382.29,552.98 L383.47,553.12 L384.66,553.27 L385.84,553.42 L387.03,553.57 L388.22,553.72 L389.42,553.87 L390.62,554.02 L391.82,554.17 L393.03,554.32 L394.23,554.47 L395.44,554.63 L396.66,554.78 L397.87,554.93 L399.09,555.09 L400.32,555.24 L401.54,555.40 L402.77,555.56 L404.00,555.71" stroke="#ff0000" stroke-width="2.7"/>
</g>
<g stroke="#000" stroke-width="1.25" fill="none">
<rect x="101.7" y="15.7" width="301.40000000000003" height="602.8"/>
<line x1="101.7" y1="317.3" x2="403.1" y2="317.3"/>
<path d="M120.54,15.7 v2.4 M120.54,314.90000000000003 v4.8 M120.54,618.5 v-2.4 M139.38,15.7 v2.4 M139.38,314.90000000000003 v4.8 M139.38,618.5 v-2.4 M158.21,15.7 v2.4 M158.21,314.90000000000003 v4.8 M158.21,618.5 v-2.4 M177.05,15.7 v4.2 M177.05,313.1 v8.4 M177.05,618.5 v-4.2 M195.89,15.7 v2.4 M195.89,314.90000000000003 v4.8 M195.89,618.5 v-2.4 M214.73,15.7 v2.4 M214.73,314.90000000000003 v4.8 M214.73,618.5 v-2.4 M233.56,15.7 v2.4 M233.56,314.90000000000003 v4.8 M233.56,618.5 v-2.4 M252.40,15.7 v4.2 M252.40,313.1 v8.4 M252.40,618.5 v-4.2 M271.24,15.7 v2.4 M271.24,314.90000000000003 v4.8 M271.24,618.5 v-2.4 M290.08,15.7 v2.4 M290.08,314.90000000000003 v4.8 M290.08,618.5 v-2.4 M308.91,15.7 v2.4 M308.91,314.90000000000003 v4.8 M308.91,618.5 v-2.4 M327.75,15.7 v4.2 M327.75,313.1 v8.4 M327.75,618.5 v-4.2 M346.59,15.7 v2.4 M346.59,314.90000000000003 v4.8 M346.59,618.5 v-2.4 M365.43,15.7 v2.4 M365.43,314.90000000000003 v4.8 M365.43,618.5 v-2.4 M384.26,15.7 v2.4 M384.26,314.90000000000003 v4.8 M384.26,618.5 v-2.4 M101.7,302.22 h2.6 M403.1,302.22 h-2.6 M101.7,287.14 h2.6 M403.1,287.14 h-2.6 M101.7,272.06 h2.6 M403.1,272.06 h-2.6 M101.7,256.98 h2.6 M403.1,256.98 h-2.6 M101.7,241.90 h4.6 M403.1,241.90 h-4.6 M101.7,226.82 h2.6 M403.1,226.82 h-2.6 M101.7,211.74 h2.6 M403.1,211.74 h-2.6 M101.7,196.66 h2.6 M403.1,196.66 h-2.6 M101.7,181.58 h2.6 M403.1,181.58 h-2.6 M101.7,166.50 h4.6 M403.1,166.50 h-4.6 M101.7,151.42 h2.6 M403.1,151.42 h-2.6 M101.7,136.34 h2.6 M403.1,136.34 h-2.6 M101.7,121.26 h2.6 M403.1,121.26 h-2.6 M101.7,106.18 h2.6 M403.1,106.18 h-2.6 M101.7,91.10 h4.6 M403.1,91.10 h-4.6 M101.7,76.02 h2.6 M403.1,76.02 h-2.6 M101.7,60.94 h2.6 M403.1,60.94 h-2.6 M101.7,45.86 h2.6 M403.1,45.86 h-2.6 M101.7,30.78 h2.6 M403.1,30.78 h-2.6 M101.7,606.45 h2.6 M403.1,606.45 h-2.6 M101.7,594.40 h2.6 M403.1,594.40 h-2.6 M101.7,582.36 h2.6 M403.1,582.36 h-2.6 M101.7,570.31 h2.6 M403.1,570.31 h-2.6 M101.7,558.26 h4.6 M403.1,558.26 h-4.6 M101.7,546.21 h2.6 M403.1,546.21 h-2.6 M101.7,534.16 h2.6 M403.1,534.16 h-2.6 M101.7,522.12 h2.6 M403.1,522.12 h-2.6 M101.7,510.07 h2.6 M403.1,510.07 h-2.6 M101.7,498.02 h4.6 M403.1,498.02 h-4.6 M101.7,485.97 h2.6 M403.1,485.97 h-2.6 M101.7,473.92 h2.6 M403.1,473.92 h-2.6 M101.7,461.88 h2.6 M403.1,461.88 h-2.6 M101.7,449.83 h2.6 M403.1,449.83 h-2.6 M101.7,437.78 h4.6 M403.1,437.78 h-4.6 M101.7,425.73 h2.6 M403.1,425.73 h-2.6 M101.7,413.68 h2.6 M403.1,413.68 h-2.6 M101.7,401.64 h2.6 M403.1,401.64 h-2.6 M101.7,389.59 h2.6 M403.1,389.59 h-2.6 M101.7,377.54 h4.6 M403.1,377.54 h-4.6 M101.7,365.49 h2.6 M403.1,365.49 h-2.6 M101.7,353.44 h2.6 M403.1,353.44 h-2.6 M101.7,341.40 h2.6 M403.1,341.40 h-2.6 M101.7,329.35 h2.6 M403.1,329.35 h-2.6" stroke-width="1.1"/>
</g>
<g font-family="Liberation Serif, serif" font-size="25.4" fill="#000">
<text transform="translate(98.70,22.40) scale(0.93,1)" text-anchor="end">20</text>
<text transform="translate(98.70,97.80) scale(0.93,1)" text-anchor="end">15</text>
<text transform="translate(98.70,173.20) scale(0.93,1)" text-anchor="end">10</text>
<text transform="translate(98.70,248.60) scale(0.93,1)" text-anchor="end">5</text>
<text transform="translate(98.70,327.70) scale(0.93,1)" text-anchor="end">0</text>
<text transform="translate(98.70,384.84) scale(0.93,1)" text-anchor="end">40</text>
<text transform="translate(98.70,445.08) scale(0.93,1)" text-anchor="end">30</text>
<text transform="translate(98.70,505.32) scale(0.93,1)" text-anchor="end">20</text>
<text transform="translate(98.70,565.56) scale(0.93,1)" text-anchor="end">10</text>
<text transform="translate(98.70,625.80) scale(0.93,1)" text-anchor="end">0</text>
<text transform="translate(101.70,641.00) scale(0.93,1)" text-anchor="middle">0.00</text>
<text transform="translate(177.05,641.00) scale(0.93,1)" text-anchor="middle">0.02</text>
<text transform="translate(252.40,641.00) scale(0.93,1)" text-anchor="middle">0.04</text>
<text transform="translate(327.75,641.00) scale(0.93,1)" text-anchor="middle">0.06</text>
<text transform="translate(403.10,641.00) scale(0.93,1)" text-anchor="middle">0.08</text>
</g>
<g fill="none" stroke="#2b2b2b" stroke-linecap="round"><path d="M22.7,157.80 L4.7,178.00" stroke-width="0.9"/><path d="M5.0,159.90 C5.7,158.10 7.1,157.20 8.5,157.50 C10.0,157.90 10.9,159.70 11.7,162.10 L16.5,175.10 C17.3,177.20 18.5,178.00 19.8,177.70 C20.9,177.40 21.7,176.80 22.3,176.00" stroke-width="1.0"/><path d="M9.6,158.50 C10.5,159.30 11.1,160.50 11.7,162.10 L16.5,175.10 C17.0,176.50 17.7,177.30 18.5,177.60" stroke-width="2.0"/></g>
<path d="M27.9,160.7 V184.0" stroke="#2b2b2b" stroke-width="1.0" fill="none"/>
<path d="M32.4,160.7 V184.0" stroke="#2b2b2b" stroke-width="1.0" fill="none"/>
<g fill="none" stroke="#2b2b2b" stroke-linecap="butt"><path d="M37.30,156.42 L39.59,150.04 L59.71,150.04 L58.00,156.42" stroke-width="1.05" stroke-linejoin="miter"/><path d="M38.20,171.65 L50.01,171.65" stroke-width="1.05"/><path d="M51.09,150.04 L44.99,171.65" stroke-width="2.51"/></g>
<text transform="translate(60.35,160.87) scale(0.9513,1)" font-family="Liberation Serif, serif" font-size="23.56"  fill="#444444">0</text>
<text transform="translate(55.97,180.90) scale(1.1919,1)" font-family="Liberation Serif, serif" font-size="20.58"  fill="#444444">c</text>
<g fill="none" stroke="#2b2b2b" stroke-linecap="round"><path d="M22.7,461.30 L4.7,481.50" stroke-width="0.9"/><path d="M5.0,463.40 C5.7,461.60 7.1,460.70 8.5,461.00 C10.0,461.40 10.9,463.20 11.7,465.60 L16.5,478.60 C17.3,480.70 18.5,481.50 19.8,481.20 C20.9,480.90 21.7,480.30 22.3,479.50" stroke-width="1.0"/><path d="M9.6,462.00 C10.5,462.80 11.1,464.00 11.7,465.60 L16.5,478.60 C17.0,480.00 17.7,480.80 18.5,481.10" stroke-width="2.0"/></g>
<path d="M27.9,464.20000000000005 V487.5" stroke="#2b2b2b" stroke-width="1.0" fill="none"/>
<path d="M32.4,464.20000000000005 V487.5" stroke="#2b2b2b" stroke-width="1.0" fill="none"/>
<g fill="none" stroke="#2b2b2b" stroke-linecap="butt"><path d="M37.30,459.92 L39.59,453.54 L59.71,453.54 L58.00,459.92" stroke-width="1.05" stroke-linejoin="miter"/><path d="M38.20,475.15 L50.01,475.15" stroke-width="1.05"/><path d="M51.09,453.54 L44.99,475.15" stroke-width="2.51"/></g>
<text transform="translate(60.35,464.37) scale(0.9513,1)" font-family="Liberation Serif, serif" font-size="23.56"  fill="#444444">0</text>
<text transform="translate(55.97,484.40) scale(1.1919,1)" font-family="Liberation Serif, serif" font-size="20.58"  fill="#444444">c</text>
<text transform="translate(165.44,52.94) scale(0.8203,1)" font-family="Liberation Serif, serif" font-size="26.58"  fill="#444444">(</text>
<text transform="translate(173.07,52.50) scale(1.2236,1)" font-family="Liberation Serif, serif" font-size="24.00"  fill="#444444">a</text>
<text transform="translate(185.70,52.94) scale(0.8203,1)" font-family="Liberation Serif, serif" font-size="26.58"  fill="#444444">)</text>
<g fill="none" stroke="#2b2b2b" stroke-linecap="butt"><path d="M201.40,41.37 L203.03,36.84 L217.34,36.84 L216.12,41.37" stroke-width="0.85" stroke-linejoin="miter"/><path d="M202.04,52.18 L210.44,52.18" stroke-width="0.85"/><path d="M211.21,36.84 L206.87,52.18" stroke-width="1.78"/></g>
<path d="M225.8,43.2 H240.3 M225.8,48.0 H240.3" stroke="#2b2b2b" stroke-width="1.0" fill="none"/>
<text transform="translate(248.18,52.50) scale(0.9816,1)" font-family="Liberation Serif, serif" font-size="24.50"  fill="#444444">0.1</text>
<g fill="none" stroke="#2b2b2b" stroke-linecap="butt"><path d="M278.60,41.37 L280.13,36.84 L293.54,36.84 L292.40,41.37" stroke-width="0.85" stroke-linejoin="miter"/><path d="M279.20,52.18 L287.08,52.18" stroke-width="0.85"/><path d="M287.80,36.84 L283.73,52.18" stroke-width="1.78"/></g>
<text transform="translate(291.91,45.14) scale(1.1352,1)" font-family="Liberation Serif, serif" font-size="16.00"  fill="#444444">0</text>
<text transform="translate(289.76,59.25) scale(1.2484,1)" font-family="Liberation Serif, serif" font-size="15.59"  fill="#444444">c</text>
<text transform="translate(316.53,52.80) scale(0.7943,1)" font-family="Liberation Serif, serif" font-size="22.06"  fill="#444444">(</text>
<text transform="translate(323.38,52.50) scale(0.9120,1)" font-family="Liberation Serif, serif" font-size="20.00" font-style="italic" fill="#444444">i</text>
<text transform="translate(328.56,52.50) scale(0.9699,1)" font-family="Liberation Serif, serif" font-size="20.00" font-style="italic" fill="#444444">ω</text>
<text transform="translate(341.34,55.50) scale(1.3176,1)" font-family="Liberation Serif, serif" font-size="14.00" font-style="italic" fill="#444444">n</text>
<path d="M357.0,44.8 H369.0 M357.0,48.8 H369.0" stroke="#2b2b2b" stroke-width="0.9" fill="none"/>
<text transform="translate(376.23,52.60) scale(0.9851,1)" font-family="Liberation Serif, serif" font-size="20.60"  fill="#444444">0</text>
<text transform="translate(387.04,52.80) scale(0.7943,1)" font-family="Liberation Serif, serif" font-size="22.06"  fill="#444444">)</text>
<text transform="translate(165.44,606.94) scale(0.8203,1)" font-family="Liberation Serif, serif" font-size="26.58"  fill="#444444">(</text>
<text transform="translate(174.10,606.50) scale(1.1185,1)" font-family="Liberation Serif, serif" font-size="24.00"  fill="#444444">b</text>
<text transform="translate(187.20,606.94) scale(0.8203,1)" font-family="Liberation Serif, serif" font-size="26.58"  fill="#444444">)</text>
<g fill="none" stroke="#2b2b2b" stroke-linecap="butt"><path d="M202.90,595.37 L204.53,590.84 L218.84,590.84 L217.62,595.37" stroke-width="0.85" stroke-linejoin="miter"/><path d="M203.54,606.18 L211.94,606.18" stroke-width="0.85"/><path d="M212.71,590.84 L208.37,606.18" stroke-width="1.78"/></g>
<path d="M227.3,597.2 H241.8 M227.3,602.0 H241.8" stroke="#2b2b2b" stroke-width="1.0" fill="none"/>
<text transform="translate(249.70,606.50) scale(0.9640,1)" font-family="Liberation Serif, serif" font-size="24.50"  fill="#444444">0.5</text>
<g fill="none" stroke="#2b2b2b" stroke-linecap="butt"><path d="M280.10,595.37 L281.63,590.84 L295.04,590.84 L293.90,595.37" stroke-width="0.85" stroke-linejoin="miter"/><path d="M280.70,606.18 L288.58,606.18" stroke-width="0.85"/><path d="M289.30,590.84 L285.23,606.18" stroke-width="1.78"/></g>
<text transform="translate(293.41,599.14) scale(1.1352,1)" font-family="Liberation Serif, serif" font-size="16.00"  fill="#444444">0</text>
<text transform="translate(291.26,613.25) scale(1.2484,1)" font-family="Liberation Serif, serif" font-size="15.59"  fill="#444444">c</text>
<text transform="translate(316.53,606.80) scale(0.7943,1)" font-family="Liberation Serif, serif" font-size="22.06"  fill="#444444">(</text>
<text transform="translate(323.38,606.50) scale(0.9120,1)" font-family="Liberation Serif, serif" font-size="20.00" font-style="italic" fill="#444444">i</text>
<text transform="translate(328.56,606.50) scale(0.9699,1)" font-family="Liberation Serif, serif" font-size="20.00" font-style="italic" fill="#444444">ω</text>
<text transform="translate(341.34,609.50) scale(1.3176,1)" font-family="Liberation Serif, serif" font-size="14.00" font-style="italic" fill="#444444">n</text>
<path d="M357.0,598.8 H369.0 M357.0,602.8 H369.0" stroke="#2b2b2b" stroke-width="0.9" fill="none"/>
<text transform="translate(376.23,606.60) scale(0.9851,1)" font-family="Liberation Serif, serif" font-size="20.60"  fill="#444444">0</text>
<text transform="translate(387.04,606.80) scale(0.7943,1)" font-family="Liberation Serif, serif" font-size="22.06"  fill="#444444">)</text>
<path d="M228.8,647.5 V675.1999999999999" stroke="#2b2b2b" stroke-width="1.1" fill="none"/>
<text transform="translate(232.40,668.43) scale(1.1161,1)" font-family="Liberation Serif, serif" font-size="28.51" font-weight="bold" fill="#444444">p</text>
<path d="M253.6,647.5 V675.1999999999999" stroke="#2b2b2b" stroke-width="1.1" fill="none"/>
<path d="M257.6,675.1999999999999 L269.2,647.5" stroke="#2b2b2b" stroke-width="1.1" fill="none"/>
<text transform="translate(270.51,668.43) scale(1.0226,1)" font-family="Liberation Serif, serif" font-size="28.51" font-style="italic" fill="#444444">p</text>
<text transform="translate(284.81,672.32) scale(0.9887,1)" font-family="Liberation Serif, serif" font-size="18.38"  fill="#444444">0</text>
<text transform="translate(223.77,346.80) scale(1.2392,1)" font-family="Liberation Serif, serif" font-size="18.50"  fill="#444444">I</text>
<text transform="translate(237.96,346.80) scale(0.9187,1)" font-family="Liberation Serif, serif" font-size="18.50"  fill="#444444">:</text>
<text transform="translate(246.43,346.80) scale(1.0467,1)" font-family="Liberation Serif, serif" font-size="18.50" font-style="italic" fill="#444444">G</text>
<path d="M265.5,340.1 H278.2 M265.5,344.1 H278.2" stroke="#2b2b2b" stroke-width="0.9" fill="none"/>
<text transform="translate(282.51,346.80) scale(1.0719,1)" font-family="Liberation Serif, serif" font-size="18.50" font-style="italic" fill="#444444">G</text>
<path d="M288.3,331.59999999999997 C289.34,328.80 290.39,329.20 291.20,330.7 S293.06,332.60 294.1,329.80" stroke="#2b2b2b" stroke-width="1.0" fill="none" stroke-linecap="round"/>
<path d="M299.3,341.5 H311.7 M305.5,335.3 V347.7" stroke="#2b2b2b" stroke-width="0.95" fill="none"/>
<text transform="translate(315.09,346.80) scale(1.0886,1)" font-family="Liberation Serif, serif" font-size="18.50" font-style="italic" fill="#444444">G</text>
<path d="M320.9,331.59999999999997 C321.94,328.80 322.99,329.20 323.80,330.7 S325.66,332.60 326.7,329.80" stroke="#2b2b2b" stroke-width="1.0" fill="none" stroke-linecap="round"/>
<text transform="translate(330.59,336.37) scale(1.1264,1)" font-family="Liberation Serif, serif" font-size="12.35"  fill="#444444">(1)</text>
<text transform="translate(330.37,352.30) scale(1.1495,1)" font-family="Liberation Serif, serif" font-size="13.00"  fill="#444444">L</text>
<text transform="translate(348.79,346.80) scale(1.2617,1)" font-family="Liberation Serif, serif" font-size="18.50"  fill="#444444">Σ</text>
<path d="M352.3,331.59999999999997 C353.34,328.80 354.39,329.20 355.20,330.7 S357.06,332.60 358.1,329.80" stroke="#2b2b2b" stroke-width="1.0" fill="none" stroke-linecap="round"/>
<text transform="translate(362.78,346.80) scale(1.0970,1)" font-family="Liberation Serif, serif" font-size="18.50" font-style="italic" fill="#444444">G</text>
<path d="M368.8,331.59999999999997 C369.84,328.80 370.89,329.20 371.70,330.7 S373.56,332.60 374.6,329.80" stroke="#2b2b2b" stroke-width="1.0" fill="none" stroke-linecap="round"/>
<text transform="translate(378.13,336.37) scale(1.2315,1)" font-family="Liberation Serif, serif" font-size="12.35"  fill="#444444">(1)</text>
<text transform="translate(377.97,352.30) scale(1.1598,1)" font-family="Liberation Serif, serif" font-size="13.00"  fill="#444444">R</text>
<text transform="translate(217.00,372.00) scale(1.1997,1)" font-family="Liberation Serif, serif" font-size="18.50"  fill="#444444">II</text>
<text transform="translate(237.96,372.00) scale(0.9187,1)" font-family="Liberation Serif, serif" font-size="18.50"  fill="#444444">:</text>
<text transform="translate(246.43,372.00) scale(1.0467,1)" font-family="Liberation Serif, serif" font-size="18.50" font-style="italic" fill="#444444">G</text>
<path d="M261.6,362.4 H270.6" stroke="#2b2b2b" stroke-width="0.85" fill="none"/>
<text transform="translate(271.95,365.40) scale(1.0418,1)" font-family="Liberation Serif, serif" font-size="13.63"  fill="#444444">1</text>
<path d="M284.4,365.3 H298.0 M284.4,369.3 H298.0" stroke="#2b2b2b" stroke-width="0.9" fill="none"/>
<text transform="translate(301.31,372.00) scale(1.0719,1)" font-family="Liberation Serif, serif" font-size="18.50" font-style="italic" fill="#444444">G</text>
<path d="M317.6,362.4 H326.4" stroke="#2b2b2b" stroke-width="0.85" fill="none"/>
<text transform="translate(327.03,365.40) scale(1.0626,1)" font-family="Liberation Serif, serif" font-size="13.63"  fill="#444444">1</text>
<text transform="translate(315.86,377.20) scale(1.0890,1)" font-family="Liberation Serif, serif" font-size="13.00"  fill="#444444">0</text>
<path d="M337.1,367.3 H349.7" stroke="#2b2b2b" stroke-width="0.9" fill="none"/>
<text transform="translate(353.39,372.00) scale(1.2617,1)" font-family="Liberation Serif, serif" font-size="18.50"  fill="#444444">Σ</text>
<text transform="translate(238.84,399.80) scale(1.0675,1)" font-family="Liberation Serif, serif" font-size="18.30"  fill="#444444">MBTA-I</text>
<text transform="translate(238.83,421.70) scale(1.0745,1)" font-family="Liberation Serif, serif" font-size="18.30"  fill="#444444">MBTA-II</text>
<text transform="translate(238.82,444.00) scale(1.1005,1)" font-family="Liberation Serif, serif" font-size="18.30"  fill="#444444">RPA-I</text>
<text transform="translate(238.81,465.80) scale(1.1136,1)" font-family="Liberation Serif, serif" font-size="18.30"  fill="#444444">RPA-II</text>
<text transform="translate(238.82,487.70) scale(1.0989,1)" font-family="Liberation Serif, serif" font-size="18.30"  fill="#444444">HFB–Popov</text>
<g fill="none">
<path d="M349.4,396 H394.9" stroke="#ff0000" stroke-width="2.3"/>
<path d="M349.4,417.6 H394.9" stroke="#0000ff" stroke-width="2.3" stroke-dasharray="10.5 6.95"/>
<path d="M349.4,439.2 H393.2" stroke="#00a600" stroke-width="2.9" stroke-dasharray="3.6 2.9"/>
<path d="M349.4,461.7 H393.6" stroke="#000" stroke-width="2.3" stroke-dasharray="9.3 2.4 3.6 2.1"/>
<path d="M350.6,484.5 H393.9" stroke="#666" stroke-width="0.9"/>
</g>
</g>
</svg>
</body></html>
